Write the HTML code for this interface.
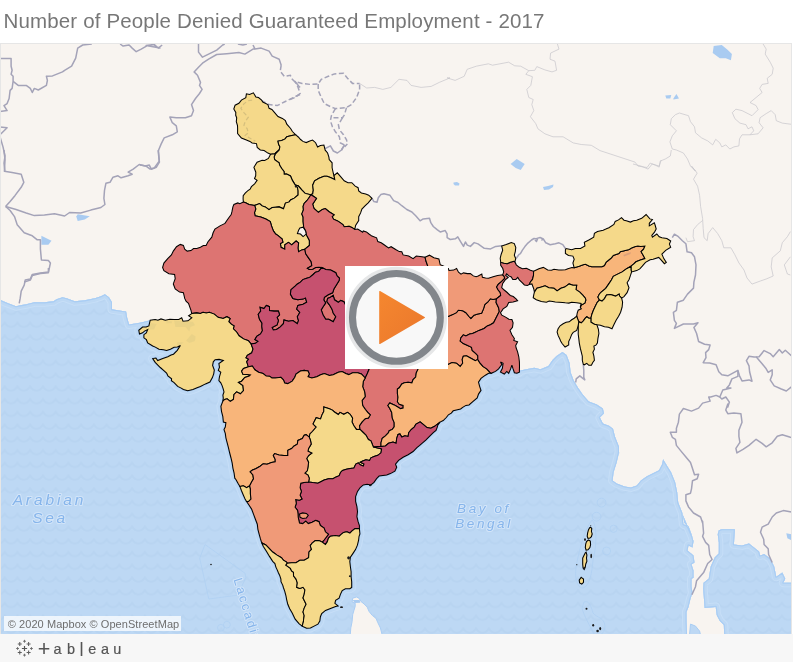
<!DOCTYPE html>
<html lang="en">
<head>
<meta charset="utf-8">
<title>Number of People Denied Guaranteed Employment - 2017</title>
<style>
html,body{margin:0;padding:0;background:#fff;}
body{width:793px;height:662px;position:relative;overflow:hidden;font-family:"Liberation Sans",sans-serif;}
#title{position:absolute;left:3.5px;top:9px;font-size:20.5px;line-height:24px;color:#777;white-space:nowrap;letter-spacing:0.15px;}
#map{position:absolute;left:0;top:43px;width:792px;height:591px;background:#f8f4f0;overflow:hidden;}
#map svg{position:absolute;left:0;top:-43px;}
#frame{position:absolute;left:0;top:43px;width:790px;height:590px;border:1px solid #e6e6e6;border-bottom:0;pointer-events:none;}
#footer{position:absolute;left:0;top:634px;width:793px;height:28px;background:#f7f7f7;}
#play{position:absolute;left:345px;top:266px;width:103px;height:103px;background:#fff;}
#attr{position:absolute;left:4px;top:616px;width:177px;height:15px;background:rgba(255,255,255,0.75);font-size:11px;line-height:15px;color:#6e6e6e;white-space:nowrap;}
#attr span{position:absolute;left:3.8px;top:0.8px;letter-spacing:0.06px;}
</style>
</head>
<body>
<div id="title">Number of People Denied Guaranteed Employment - 2017</div>
<div id="map">
<svg width="793" height="662" viewBox="0 0 793 662">
<defs><pattern id="wv" width="12.74" height="12.74" patternUnits="userSpaceOnUse" patternTransform="translate(4.7 2.8)"><path d="M-6.37,5.6 C-4,5.6 -1.6,4.2 0,1.2 C1.6,4.2 4,5.6 6.37,5.6 C8.74,5.6 11.1,4.2 12.74,1.2 C14.3,4.2 16.7,5.6 19.1,5.6" fill="none" stroke="#b8d4f1" stroke-width="2.1" stroke-linejoin="round"/></pattern></defs>
<rect x="0" y="43" width="793" height="592" fill="#f8f4f0"/>
<path d="M-12.1,300.3 1.0,300.3 8.1,303.3 16.1,306.3 20.2,305.3 26.2,304.3 34.3,302.3 44.4,302.3 53.5,301.3 56.5,299.3 62.5,297.2 66.6,298.2 74.7,301.3 84.7,300.3 94.8,298.2 100.9,296.2 104.9,294.2 109.0,297.2 112.0,302.3 112.0,309.3 119.0,310.4 126.1,311.4 127.1,317.4 129.1,324.5 135.2,323.5 141.2,322.5 149.3,320.4 165.3,320.2 161.0,318.9 157.9,320.2 155.2,319.5 150.2,320.2 148.9,325.9 146.1,326.9 142.6,327.1 138.8,330.3 139.5,334.0 142.6,332.8 144.5,331.1 147.7,329.6 146.3,332.9 143.9,334.7 143.9,337.8 146.4,339.7 147.7,342.9 152.7,346.0 155.3,347.1 159.0,349.2 163.5,349.8 166.6,350.4 170.4,349.2 174.1,347.3 177.4,347.0 180.4,345.4 177.3,350.4 173.5,354.2 171.1,355.0 167.8,356.7 162.8,358.6 157.7,360.5 155.9,358.0 152.7,358.6 155.2,362.4 157.6,364.8 160.3,367.5 163.3,370.2 166.6,373.1 167.9,375.8 171.6,378.8 171.4,380.7 174.1,382.6 177.7,386.4 181.2,388.1 183.4,389.5 187.8,390.8 192.9,389.5 197.1,387.8 200.4,386.4 205.5,383.9 209.9,382.0 212.4,377.6 213.7,373.8 214.3,370.0 212.6,365.4 213.3,361.8 215.1,359.7 219.1,359.4 223.3,360.4 218.9,363.5 219.5,367.3 218.3,370.4 220.8,372.3 219.5,376.7 218.9,380.5 220.8,382.8 222.1,385.6 223.2,388.9 224.0,391.9 222.9,395.0 223.3,398.2 222.7,401.5 220.9,406.3 221.5,411.3 222.8,416.4 223.4,422.1 225.9,422.7 225.3,427.1 224.0,429.6 225.3,433.4 225.9,437.8 227.2,442.9 228.5,447.9 229.7,453.0 231.0,458.0 232.2,463.1 232.9,468.1 234.1,473.1 234.8,478.2 235.9,479.5 238.4,483.9 239.9,486.4 241.5,490.8 243.4,495.2 245.3,499.6 246.6,501.5 249.1,505.3 251.6,509.1 253.5,514.1 255.4,519.2 257.3,524.2 257.9,529.3 259.2,534.3 260.4,538.7 261.7,542.8 263.2,546.3 266.4,551.3 269.5,556.4 272.7,561.4 274.9,563.6 275.9,567.1 277.2,569.9 278.4,572.8 279.7,575.4 280.9,579.1 281.0,581.6 282.8,585.4 283.4,587.5 284.7,591.1 285.9,595.5 286.6,599.3 287.8,604.3 289.7,608.7 292.2,613.1 294.1,616.9 295.2,619.2 299.0,623.6 302.2,626.1 306.6,628.3 310.4,628.0 314.1,626.1 317.9,624.2 319.8,621.1 320.4,616.7 321.7,613.5 325.5,610.4 330.5,608.5 335.6,606.6 338.1,605.9 334.9,603.4 335.6,600.3 339.1,598.2 340.4,594.4 342.2,590.6 345.4,588.7 349.8,588.7 351.7,587.5 351.7,581.8 351.1,576.7 351.1,571.7 350.4,566.7 349.8,561.6 350.4,557.2 353.0,553.4 355.5,549.6 357.4,545.2 358.6,540.2 359.0,536.5 359.9,533.9 359.4,528.6 359.4,525.5 358.1,521.7 356.9,516.7 357.5,511.6 356.9,506.6 355.6,501.5 355.6,496.5 357.5,491.4 360.2,487.5 363.3,484.9 367.1,484.3 370.9,484.9 374.0,482.4 376.6,478.6 379.1,476.1 382.9,475.5 386.7,474.9 390.4,473.6 394.9,471.1 396.7,467.3 395.5,464.1 398.6,460.4 403.1,457.2 408.1,454.7 413.1,451.5 416.9,447.7 419.4,445.6 422.0,443.3 425.8,440.2 429.5,436.4 433.3,432.6 436.0,430.4 437.1,427.6 437.9,424.9 440.0,422.1 443.2,420.6 446.3,417.5 448.4,414.8 451.3,413.1 453.2,410.8 456.4,409.9 460.6,408.9 462.7,407.4 465.9,405.4 469.0,404.9 472.8,401.7 477.2,397.9 478.5,394.1 481.0,390.4 479.7,386.6 478.5,382.2 481.0,378.4 485.4,375.2 488.6,373.3 491.1,373.3 495.5,371.4 498.6,368.9 501.8,364.5 500.5,362.0 503.1,363.2 502.4,368.3 500.5,372.1 504.3,374.0 506.8,371.4 508.7,373.3 510.6,368.9 511.9,365.1 513.1,368.9 514.4,372.7 516.9,373.3 519.4,372.1 519.4,370.8 526.2,369.2 534.3,367.8 540.4,369.2 548.4,366.1 552.5,360.1 556.5,356.1 562.5,352.0 566.6,355.0 569.6,363.1 570.6,372.2 573.6,380.3 577.7,387.3 582.7,394.4 588.8,401.5 596.8,404.5 602.9,408.5 603.9,413.6 599.9,417.6 602.9,423.6 609.0,425.7 613.0,428.7 615.0,436.8 619.0,446.8 619.0,454.9 619.1,452.1 616.7,462.2 613.6,472.3 612.6,480.4 616.7,483.4 624.7,486.4 630.8,487.4 636.8,485.4 640.9,480.4 646.9,476.3 653.0,473.3 659.0,470.3 662.1,464.2 663.1,459.2 666.1,464.2 671.1,472.3 675.2,482.4 677.2,492.5 678.2,502.5 682.2,512.6 684.3,522.7 689.3,528.8 692.3,536.8 682.4,514.1 683.4,524.2 688.5,526.2 691.5,534.3 693.5,541.3 692.5,547.4 688.5,545.4 687.5,550.4 693.5,555.5 694.5,562.5 691.5,564.5 693.5,570.6 693.5,577.7 691.5,578.7 691.5,586.7 692.5,592.8 690.5,598.8 688.5,606.9 686.5,612.0 686.5,621.0 687.1,635.2 686.0,650.0 -12.0,650.0Z M718.8,530.2 721.8,529.2 734.9,529.2 733.9,544.4 742.0,545.4 749.0,543.4 754.1,547.4 759.1,551.4 760.1,555.5 764.1,554.1 770.2,558.5 774.2,566.6 776.3,576.7 782.3,572.6 785.3,578.7 783.3,582.7 791.4,582.7 804.5,582.7 804.5,647.3 724.8,647.3 723.8,625.1 719.8,621.0 716.7,615.0 715.7,606.9 704.6,607.9 703.2,588.8 703.6,582.7 708.7,578.7 710.7,566.6 714.7,557.5 718.8,553.5 718.8,542.4 717.7,534.3Z" fill="#bdd8f4"/>
<path d="M-12.1,300.3 1.0,300.3 8.1,303.3 16.1,306.3 20.2,305.3 26.2,304.3 34.3,302.3 44.4,302.3 53.5,301.3 56.5,299.3 62.5,297.2 66.6,298.2 74.7,301.3 84.7,300.3 94.8,298.2 100.9,296.2 104.9,294.2 109.0,297.2 112.0,302.3 112.0,309.3 119.0,310.4 126.1,311.4 127.1,317.4 129.1,324.5 135.2,323.5 141.2,322.5 149.3,320.4 165.3,320.2 161.0,318.9 157.9,320.2 155.2,319.5 150.2,320.2 148.9,325.9 146.1,326.9 142.6,327.1 138.8,330.3 139.5,334.0 142.6,332.8 144.5,331.1 147.7,329.6 146.3,332.9 143.9,334.7 143.9,337.8 146.4,339.7 147.7,342.9 152.7,346.0 155.3,347.1 159.0,349.2 163.5,349.8 166.6,350.4 170.4,349.2 174.1,347.3 177.4,347.0 180.4,345.4 177.3,350.4 173.5,354.2 171.1,355.0 167.8,356.7 162.8,358.6 157.7,360.5 155.9,358.0 152.7,358.6 155.2,362.4 157.6,364.8 160.3,367.5 163.3,370.2 166.6,373.1 167.9,375.8 171.6,378.8 171.4,380.7 174.1,382.6 177.7,386.4 181.2,388.1 183.4,389.5 187.8,390.8 192.9,389.5 197.1,387.8 200.4,386.4 205.5,383.9 209.9,382.0 212.4,377.6 213.7,373.8 214.3,370.0 212.6,365.4 213.3,361.8 215.1,359.7 219.1,359.4 223.3,360.4 218.9,363.5 219.5,367.3 218.3,370.4 220.8,372.3 219.5,376.7 218.9,380.5 220.8,382.8 222.1,385.6 223.2,388.9 224.0,391.9 222.9,395.0 223.3,398.2 222.7,401.5 220.9,406.3 221.5,411.3 222.8,416.4 223.4,422.1 225.9,422.7 225.3,427.1 224.0,429.6 225.3,433.4 225.9,437.8 227.2,442.9 228.5,447.9 229.7,453.0 231.0,458.0 232.2,463.1 232.9,468.1 234.1,473.1 234.8,478.2 235.9,479.5 238.4,483.9 239.9,486.4 241.5,490.8 243.4,495.2 245.3,499.6 246.6,501.5 249.1,505.3 251.6,509.1 253.5,514.1 255.4,519.2 257.3,524.2 257.9,529.3 259.2,534.3 260.4,538.7 261.7,542.8 263.2,546.3 266.4,551.3 269.5,556.4 272.7,561.4 274.9,563.6 275.9,567.1 277.2,569.9 278.4,572.8 279.7,575.4 280.9,579.1 281.0,581.6 282.8,585.4 283.4,587.5 284.7,591.1 285.9,595.5 286.6,599.3 287.8,604.3 289.7,608.7 292.2,613.1 294.1,616.9 295.2,619.2 299.0,623.6 302.2,626.1 306.6,628.3 310.4,628.0 314.1,626.1 317.9,624.2 319.8,621.1 320.4,616.7 321.7,613.5 325.5,610.4 330.5,608.5 335.6,606.6 338.1,605.9 334.9,603.4 335.6,600.3 339.1,598.2 340.4,594.4 342.2,590.6 345.4,588.7 349.8,588.7 351.7,587.5 351.7,581.8 351.1,576.7 351.1,571.7 350.4,566.7 349.8,561.6 350.4,557.2 353.0,553.4 355.5,549.6 357.4,545.2 358.6,540.2 359.0,536.5 359.9,533.9 359.4,528.6 359.4,525.5 358.1,521.7 356.9,516.7 357.5,511.6 356.9,506.6 355.6,501.5 355.6,496.5 357.5,491.4 360.2,487.5 363.3,484.9 367.1,484.3 370.9,484.9 374.0,482.4 376.6,478.6 379.1,476.1 382.9,475.5 386.7,474.9 390.4,473.6 394.9,471.1 396.7,467.3 395.5,464.1 398.6,460.4 403.1,457.2 408.1,454.7 413.1,451.5 416.9,447.7 419.4,445.6 422.0,443.3 425.8,440.2 429.5,436.4 433.3,432.6 436.0,430.4 437.1,427.6 437.9,424.9 440.0,422.1 443.2,420.6 446.3,417.5 448.4,414.8 451.3,413.1 453.2,410.8 456.4,409.9 460.6,408.9 462.7,407.4 465.9,405.4 469.0,404.9 472.8,401.7 477.2,397.9 478.5,394.1 481.0,390.4 479.7,386.6 478.5,382.2 481.0,378.4 485.4,375.2 488.6,373.3 491.1,373.3 495.5,371.4 498.6,368.9 501.8,364.5 500.5,362.0 503.1,363.2 502.4,368.3 500.5,372.1 504.3,374.0 506.8,371.4 508.7,373.3 510.6,368.9 511.9,365.1 513.1,368.9 514.4,372.7 516.9,373.3 519.4,372.1 519.4,370.8 526.2,369.2 534.3,367.8 540.4,369.2 548.4,366.1 552.5,360.1 556.5,356.1 562.5,352.0 566.6,355.0 569.6,363.1 570.6,372.2 573.6,380.3 577.7,387.3 582.7,394.4 588.8,401.5 596.8,404.5 602.9,408.5 603.9,413.6 599.9,417.6 602.9,423.6 609.0,425.7 613.0,428.7 615.0,436.8 619.0,446.8 619.0,454.9 619.1,452.1 616.7,462.2 613.6,472.3 612.6,480.4 616.7,483.4 624.7,486.4 630.8,487.4 636.8,485.4 640.9,480.4 646.9,476.3 653.0,473.3 659.0,470.3 662.1,464.2 663.1,459.2 666.1,464.2 671.1,472.3 675.2,482.4 677.2,492.5 678.2,502.5 682.2,512.6 684.3,522.7 689.3,528.8 692.3,536.8 682.4,514.1 683.4,524.2 688.5,526.2 691.5,534.3 693.5,541.3 692.5,547.4 688.5,545.4 687.5,550.4 693.5,555.5 694.5,562.5 691.5,564.5 693.5,570.6 693.5,577.7 691.5,578.7 691.5,586.7 692.5,592.8 690.5,598.8 688.5,606.9 686.5,612.0 686.5,621.0 687.1,635.2 686.0,650.0 -12.0,650.0Z M718.8,530.2 721.8,529.2 734.9,529.2 733.9,544.4 742.0,545.4 749.0,543.4 754.1,547.4 759.1,551.4 760.1,555.5 764.1,554.1 770.2,558.5 774.2,566.6 776.3,576.7 782.3,572.6 785.3,578.7 783.3,582.7 791.4,582.7 804.5,582.7 804.5,647.3 724.8,647.3 723.8,625.1 719.8,621.0 716.7,615.0 715.7,606.9 704.6,607.9 703.2,588.8 703.6,582.7 708.7,578.7 710.7,566.6 714.7,557.5 718.8,553.5 718.8,542.4 717.7,534.3Z" fill="url(#wv)"/>
<clipPath id="wc"><path d="M-12.1,300.3 1.0,300.3 8.1,303.3 16.1,306.3 20.2,305.3 26.2,304.3 34.3,302.3 44.4,302.3 53.5,301.3 56.5,299.3 62.5,297.2 66.6,298.2 74.7,301.3 84.7,300.3 94.8,298.2 100.9,296.2 104.9,294.2 109.0,297.2 112.0,302.3 112.0,309.3 119.0,310.4 126.1,311.4 127.1,317.4 129.1,324.5 135.2,323.5 141.2,322.5 149.3,320.4 165.3,320.2 161.0,318.9 157.9,320.2 155.2,319.5 150.2,320.2 148.9,325.9 146.1,326.9 142.6,327.1 138.8,330.3 139.5,334.0 142.6,332.8 144.5,331.1 147.7,329.6 146.3,332.9 143.9,334.7 143.9,337.8 146.4,339.7 147.7,342.9 152.7,346.0 155.3,347.1 159.0,349.2 163.5,349.8 166.6,350.4 170.4,349.2 174.1,347.3 177.4,347.0 180.4,345.4 177.3,350.4 173.5,354.2 171.1,355.0 167.8,356.7 162.8,358.6 157.7,360.5 155.9,358.0 152.7,358.6 155.2,362.4 157.6,364.8 160.3,367.5 163.3,370.2 166.6,373.1 167.9,375.8 171.6,378.8 171.4,380.7 174.1,382.6 177.7,386.4 181.2,388.1 183.4,389.5 187.8,390.8 192.9,389.5 197.1,387.8 200.4,386.4 205.5,383.9 209.9,382.0 212.4,377.6 213.7,373.8 214.3,370.0 212.6,365.4 213.3,361.8 215.1,359.7 219.1,359.4 223.3,360.4 218.9,363.5 219.5,367.3 218.3,370.4 220.8,372.3 219.5,376.7 218.9,380.5 220.8,382.8 222.1,385.6 223.2,388.9 224.0,391.9 222.9,395.0 223.3,398.2 222.7,401.5 220.9,406.3 221.5,411.3 222.8,416.4 223.4,422.1 225.9,422.7 225.3,427.1 224.0,429.6 225.3,433.4 225.9,437.8 227.2,442.9 228.5,447.9 229.7,453.0 231.0,458.0 232.2,463.1 232.9,468.1 234.1,473.1 234.8,478.2 235.9,479.5 238.4,483.9 239.9,486.4 241.5,490.8 243.4,495.2 245.3,499.6 246.6,501.5 249.1,505.3 251.6,509.1 253.5,514.1 255.4,519.2 257.3,524.2 257.9,529.3 259.2,534.3 260.4,538.7 261.7,542.8 263.2,546.3 266.4,551.3 269.5,556.4 272.7,561.4 274.9,563.6 275.9,567.1 277.2,569.9 278.4,572.8 279.7,575.4 280.9,579.1 281.0,581.6 282.8,585.4 283.4,587.5 284.7,591.1 285.9,595.5 286.6,599.3 287.8,604.3 289.7,608.7 292.2,613.1 294.1,616.9 295.2,619.2 299.0,623.6 302.2,626.1 306.6,628.3 310.4,628.0 314.1,626.1 317.9,624.2 319.8,621.1 320.4,616.7 321.7,613.5 325.5,610.4 330.5,608.5 335.6,606.6 338.1,605.9 334.9,603.4 335.6,600.3 339.1,598.2 340.4,594.4 342.2,590.6 345.4,588.7 349.8,588.7 351.7,587.5 351.7,581.8 351.1,576.7 351.1,571.7 350.4,566.7 349.8,561.6 350.4,557.2 353.0,553.4 355.5,549.6 357.4,545.2 358.6,540.2 359.0,536.5 359.9,533.9 359.4,528.6 359.4,525.5 358.1,521.7 356.9,516.7 357.5,511.6 356.9,506.6 355.6,501.5 355.6,496.5 357.5,491.4 360.2,487.5 363.3,484.9 367.1,484.3 370.9,484.9 374.0,482.4 376.6,478.6 379.1,476.1 382.9,475.5 386.7,474.9 390.4,473.6 394.9,471.1 396.7,467.3 395.5,464.1 398.6,460.4 403.1,457.2 408.1,454.7 413.1,451.5 416.9,447.7 419.4,445.6 422.0,443.3 425.8,440.2 429.5,436.4 433.3,432.6 436.0,430.4 437.1,427.6 437.9,424.9 440.0,422.1 443.2,420.6 446.3,417.5 448.4,414.8 451.3,413.1 453.2,410.8 456.4,409.9 460.6,408.9 462.7,407.4 465.9,405.4 469.0,404.9 472.8,401.7 477.2,397.9 478.5,394.1 481.0,390.4 479.7,386.6 478.5,382.2 481.0,378.4 485.4,375.2 488.6,373.3 491.1,373.3 495.5,371.4 498.6,368.9 501.8,364.5 500.5,362.0 503.1,363.2 502.4,368.3 500.5,372.1 504.3,374.0 506.8,371.4 508.7,373.3 510.6,368.9 511.9,365.1 513.1,368.9 514.4,372.7 516.9,373.3 519.4,372.1 519.4,370.8 526.2,369.2 534.3,367.8 540.4,369.2 548.4,366.1 552.5,360.1 556.5,356.1 562.5,352.0 566.6,355.0 569.6,363.1 570.6,372.2 573.6,380.3 577.7,387.3 582.7,394.4 588.8,401.5 596.8,404.5 602.9,408.5 603.9,413.6 599.9,417.6 602.9,423.6 609.0,425.7 613.0,428.7 615.0,436.8 619.0,446.8 619.0,454.9 619.1,452.1 616.7,462.2 613.6,472.3 612.6,480.4 616.7,483.4 624.7,486.4 630.8,487.4 636.8,485.4 640.9,480.4 646.9,476.3 653.0,473.3 659.0,470.3 662.1,464.2 663.1,459.2 666.1,464.2 671.1,472.3 675.2,482.4 677.2,492.5 678.2,502.5 682.2,512.6 684.3,522.7 689.3,528.8 692.3,536.8 682.4,514.1 683.4,524.2 688.5,526.2 691.5,534.3 693.5,541.3 692.5,547.4 688.5,545.4 687.5,550.4 693.5,555.5 694.5,562.5 691.5,564.5 693.5,570.6 693.5,577.7 691.5,578.7 691.5,586.7 692.5,592.8 690.5,598.8 688.5,606.9 686.5,612.0 686.5,621.0 687.1,635.2 686.0,650.0 -12.0,650.0Z M718.8,530.2 721.8,529.2 734.9,529.2 733.9,544.4 742.0,545.4 749.0,543.4 754.1,547.4 759.1,551.4 760.1,555.5 764.1,554.1 770.2,558.5 774.2,566.6 776.3,576.7 782.3,572.6 785.3,578.7 783.3,582.7 791.4,582.7 804.5,582.7 804.5,647.3 724.8,647.3 723.8,625.1 719.8,621.0 716.7,615.0 715.7,606.9 704.6,607.9 703.2,588.8 703.6,582.7 708.7,578.7 710.7,566.6 714.7,557.5 718.8,553.5 718.8,542.4 717.7,534.3Z"/></clipPath>
<g clip-path="url(#wc)" fill="none" stroke-linejoin="round"><path d="M-12.1,300.3 1.0,300.3 8.1,303.3 16.1,306.3 20.2,305.3 26.2,304.3 34.3,302.3 44.4,302.3 53.5,301.3 56.5,299.3 62.5,297.2 66.6,298.2 74.7,301.3 84.7,300.3 94.8,298.2 100.9,296.2 104.9,294.2 109.0,297.2 112.0,302.3 112.0,309.3 119.0,310.4 126.1,311.4 127.1,317.4 129.1,324.5 135.2,323.5 141.2,322.5 149.3,320.4 165.3,320.2 161.0,318.9 157.9,320.2 155.2,319.5 150.2,320.2 148.9,325.9 146.1,326.9 142.6,327.1 138.8,330.3 139.5,334.0 142.6,332.8 144.5,331.1 147.7,329.6 146.3,332.9 143.9,334.7 143.9,337.8 146.4,339.7 147.7,342.9 152.7,346.0 155.3,347.1 159.0,349.2 163.5,349.8 166.6,350.4 170.4,349.2 174.1,347.3 177.4,347.0 180.4,345.4 177.3,350.4 173.5,354.2 171.1,355.0 167.8,356.7 162.8,358.6 157.7,360.5 155.9,358.0 152.7,358.6 155.2,362.4 157.6,364.8 160.3,367.5 163.3,370.2 166.6,373.1 167.9,375.8 171.6,378.8 171.4,380.7 174.1,382.6 177.7,386.4 181.2,388.1 183.4,389.5 187.8,390.8 192.9,389.5 197.1,387.8 200.4,386.4 205.5,383.9 209.9,382.0 212.4,377.6 213.7,373.8 214.3,370.0 212.6,365.4 213.3,361.8 215.1,359.7 219.1,359.4 223.3,360.4 218.9,363.5 219.5,367.3 218.3,370.4 220.8,372.3 219.5,376.7 218.9,380.5 220.8,382.8 222.1,385.6 223.2,388.9 224.0,391.9 222.9,395.0 223.3,398.2 222.7,401.5 220.9,406.3 221.5,411.3 222.8,416.4 223.4,422.1 225.9,422.7 225.3,427.1 224.0,429.6 225.3,433.4 225.9,437.8 227.2,442.9 228.5,447.9 229.7,453.0 231.0,458.0 232.2,463.1 232.9,468.1 234.1,473.1 234.8,478.2 235.9,479.5 238.4,483.9 239.9,486.4 241.5,490.8 243.4,495.2 245.3,499.6 246.6,501.5 249.1,505.3 251.6,509.1 253.5,514.1 255.4,519.2 257.3,524.2 257.9,529.3 259.2,534.3 260.4,538.7 261.7,542.8 263.2,546.3 266.4,551.3 269.5,556.4 272.7,561.4 274.9,563.6 275.9,567.1 277.2,569.9 278.4,572.8 279.7,575.4 280.9,579.1 281.0,581.6 282.8,585.4 283.4,587.5 284.7,591.1 285.9,595.5 286.6,599.3 287.8,604.3 289.7,608.7 292.2,613.1 294.1,616.9 295.2,619.2 299.0,623.6 302.2,626.1 306.6,628.3 310.4,628.0 314.1,626.1 317.9,624.2 319.8,621.1 320.4,616.7 321.7,613.5 325.5,610.4 330.5,608.5 335.6,606.6 338.1,605.9 334.9,603.4 335.6,600.3 339.1,598.2 340.4,594.4 342.2,590.6 345.4,588.7 349.8,588.7 351.7,587.5 351.7,581.8 351.1,576.7 351.1,571.7 350.4,566.7 349.8,561.6 350.4,557.2 353.0,553.4 355.5,549.6 357.4,545.2 358.6,540.2 359.0,536.5 359.9,533.9 359.4,528.6 359.4,525.5 358.1,521.7 356.9,516.7 357.5,511.6 356.9,506.6 355.6,501.5 355.6,496.5 357.5,491.4 360.2,487.5 363.3,484.9 367.1,484.3 370.9,484.9 374.0,482.4 376.6,478.6 379.1,476.1 382.9,475.5 386.7,474.9 390.4,473.6 394.9,471.1 396.7,467.3 395.5,464.1 398.6,460.4 403.1,457.2 408.1,454.7 413.1,451.5 416.9,447.7 419.4,445.6 422.0,443.3 425.8,440.2 429.5,436.4 433.3,432.6 436.0,430.4 437.1,427.6 437.9,424.9 440.0,422.1 443.2,420.6 446.3,417.5 448.4,414.8 451.3,413.1 453.2,410.8 456.4,409.9 460.6,408.9 462.7,407.4 465.9,405.4 469.0,404.9 472.8,401.7 477.2,397.9 478.5,394.1 481.0,390.4 479.7,386.6 478.5,382.2 481.0,378.4 485.4,375.2 488.6,373.3 491.1,373.3 495.5,371.4 498.6,368.9 501.8,364.5 500.5,362.0 503.1,363.2 502.4,368.3 500.5,372.1 504.3,374.0 506.8,371.4 508.7,373.3 510.6,368.9 511.9,365.1 513.1,368.9 514.4,372.7 516.9,373.3 519.4,372.1 519.4,370.8 526.2,369.2 534.3,367.8 540.4,369.2 548.4,366.1 552.5,360.1 556.5,356.1 562.5,352.0 566.6,355.0 569.6,363.1 570.6,372.2 573.6,380.3 577.7,387.3 582.7,394.4 588.8,401.5 596.8,404.5 602.9,408.5 603.9,413.6 599.9,417.6 602.9,423.6 609.0,425.7 613.0,428.7 615.0,436.8 619.0,446.8 619.0,454.9 619.1,452.1 616.7,462.2 613.6,472.3 612.6,480.4 616.7,483.4 624.7,486.4 630.8,487.4 636.8,485.4 640.9,480.4 646.9,476.3 653.0,473.3 659.0,470.3 662.1,464.2 663.1,459.2 666.1,464.2 671.1,472.3 675.2,482.4 677.2,492.5 678.2,502.5 682.2,512.6 684.3,522.7 689.3,528.8 692.3,536.8 682.4,514.1 683.4,524.2 688.5,526.2 691.5,534.3 693.5,541.3 692.5,547.4 688.5,545.4 687.5,550.4 693.5,555.5 694.5,562.5 691.5,564.5 693.5,570.6 693.5,577.7 691.5,578.7 691.5,586.7 692.5,592.8 690.5,598.8 688.5,606.9 686.5,612.0 686.5,621.0 687.1,635.2 686.0,650.0 -12.0,650.0Z M718.8,530.2 721.8,529.2 734.9,529.2 733.9,544.4 742.0,545.4 749.0,543.4 754.1,547.4 759.1,551.4 760.1,555.5 764.1,554.1 770.2,558.5 774.2,566.6 776.3,576.7 782.3,572.6 785.3,578.7 783.3,582.7 791.4,582.7 804.5,582.7 804.5,647.3 724.8,647.3 723.8,625.1 719.8,621.0 716.7,615.0 715.7,606.9 704.6,607.9 703.2,588.8 703.6,582.7 708.7,578.7 710.7,566.6 714.7,557.5 718.8,553.5 718.8,542.4 717.7,534.3Z" stroke="#c6def7" stroke-width="9"/><path d="M-12.1,300.3 1.0,300.3 8.1,303.3 16.1,306.3 20.2,305.3 26.2,304.3 34.3,302.3 44.4,302.3 53.5,301.3 56.5,299.3 62.5,297.2 66.6,298.2 74.7,301.3 84.7,300.3 94.8,298.2 100.9,296.2 104.9,294.2 109.0,297.2 112.0,302.3 112.0,309.3 119.0,310.4 126.1,311.4 127.1,317.4 129.1,324.5 135.2,323.5 141.2,322.5 149.3,320.4 165.3,320.2 161.0,318.9 157.9,320.2 155.2,319.5 150.2,320.2 148.9,325.9 146.1,326.9 142.6,327.1 138.8,330.3 139.5,334.0 142.6,332.8 144.5,331.1 147.7,329.6 146.3,332.9 143.9,334.7 143.9,337.8 146.4,339.7 147.7,342.9 152.7,346.0 155.3,347.1 159.0,349.2 163.5,349.8 166.6,350.4 170.4,349.2 174.1,347.3 177.4,347.0 180.4,345.4 177.3,350.4 173.5,354.2 171.1,355.0 167.8,356.7 162.8,358.6 157.7,360.5 155.9,358.0 152.7,358.6 155.2,362.4 157.6,364.8 160.3,367.5 163.3,370.2 166.6,373.1 167.9,375.8 171.6,378.8 171.4,380.7 174.1,382.6 177.7,386.4 181.2,388.1 183.4,389.5 187.8,390.8 192.9,389.5 197.1,387.8 200.4,386.4 205.5,383.9 209.9,382.0 212.4,377.6 213.7,373.8 214.3,370.0 212.6,365.4 213.3,361.8 215.1,359.7 219.1,359.4 223.3,360.4 218.9,363.5 219.5,367.3 218.3,370.4 220.8,372.3 219.5,376.7 218.9,380.5 220.8,382.8 222.1,385.6 223.2,388.9 224.0,391.9 222.9,395.0 223.3,398.2 222.7,401.5 220.9,406.3 221.5,411.3 222.8,416.4 223.4,422.1 225.9,422.7 225.3,427.1 224.0,429.6 225.3,433.4 225.9,437.8 227.2,442.9 228.5,447.9 229.7,453.0 231.0,458.0 232.2,463.1 232.9,468.1 234.1,473.1 234.8,478.2 235.9,479.5 238.4,483.9 239.9,486.4 241.5,490.8 243.4,495.2 245.3,499.6 246.6,501.5 249.1,505.3 251.6,509.1 253.5,514.1 255.4,519.2 257.3,524.2 257.9,529.3 259.2,534.3 260.4,538.7 261.7,542.8 263.2,546.3 266.4,551.3 269.5,556.4 272.7,561.4 274.9,563.6 275.9,567.1 277.2,569.9 278.4,572.8 279.7,575.4 280.9,579.1 281.0,581.6 282.8,585.4 283.4,587.5 284.7,591.1 285.9,595.5 286.6,599.3 287.8,604.3 289.7,608.7 292.2,613.1 294.1,616.9 295.2,619.2 299.0,623.6 302.2,626.1 306.6,628.3 310.4,628.0 314.1,626.1 317.9,624.2 319.8,621.1 320.4,616.7 321.7,613.5 325.5,610.4 330.5,608.5 335.6,606.6 338.1,605.9 334.9,603.4 335.6,600.3 339.1,598.2 340.4,594.4 342.2,590.6 345.4,588.7 349.8,588.7 351.7,587.5 351.7,581.8 351.1,576.7 351.1,571.7 350.4,566.7 349.8,561.6 350.4,557.2 353.0,553.4 355.5,549.6 357.4,545.2 358.6,540.2 359.0,536.5 359.9,533.9 359.4,528.6 359.4,525.5 358.1,521.7 356.9,516.7 357.5,511.6 356.9,506.6 355.6,501.5 355.6,496.5 357.5,491.4 360.2,487.5 363.3,484.9 367.1,484.3 370.9,484.9 374.0,482.4 376.6,478.6 379.1,476.1 382.9,475.5 386.7,474.9 390.4,473.6 394.9,471.1 396.7,467.3 395.5,464.1 398.6,460.4 403.1,457.2 408.1,454.7 413.1,451.5 416.9,447.7 419.4,445.6 422.0,443.3 425.8,440.2 429.5,436.4 433.3,432.6 436.0,430.4 437.1,427.6 437.9,424.9 440.0,422.1 443.2,420.6 446.3,417.5 448.4,414.8 451.3,413.1 453.2,410.8 456.4,409.9 460.6,408.9 462.7,407.4 465.9,405.4 469.0,404.9 472.8,401.7 477.2,397.9 478.5,394.1 481.0,390.4 479.7,386.6 478.5,382.2 481.0,378.4 485.4,375.2 488.6,373.3 491.1,373.3 495.5,371.4 498.6,368.9 501.8,364.5 500.5,362.0 503.1,363.2 502.4,368.3 500.5,372.1 504.3,374.0 506.8,371.4 508.7,373.3 510.6,368.9 511.9,365.1 513.1,368.9 514.4,372.7 516.9,373.3 519.4,372.1 519.4,370.8 526.2,369.2 534.3,367.8 540.4,369.2 548.4,366.1 552.5,360.1 556.5,356.1 562.5,352.0 566.6,355.0 569.6,363.1 570.6,372.2 573.6,380.3 577.7,387.3 582.7,394.4 588.8,401.5 596.8,404.5 602.9,408.5 603.9,413.6 599.9,417.6 602.9,423.6 609.0,425.7 613.0,428.7 615.0,436.8 619.0,446.8 619.0,454.9 619.1,452.1 616.7,462.2 613.6,472.3 612.6,480.4 616.7,483.4 624.7,486.4 630.8,487.4 636.8,485.4 640.9,480.4 646.9,476.3 653.0,473.3 659.0,470.3 662.1,464.2 663.1,459.2 666.1,464.2 671.1,472.3 675.2,482.4 677.2,492.5 678.2,502.5 682.2,512.6 684.3,522.7 689.3,528.8 692.3,536.8 682.4,514.1 683.4,524.2 688.5,526.2 691.5,534.3 693.5,541.3 692.5,547.4 688.5,545.4 687.5,550.4 693.5,555.5 694.5,562.5 691.5,564.5 693.5,570.6 693.5,577.7 691.5,578.7 691.5,586.7 692.5,592.8 690.5,598.8 688.5,606.9 686.5,612.0 686.5,621.0 687.1,635.2 686.0,650.0 -12.0,650.0Z M718.8,530.2 721.8,529.2 734.9,529.2 733.9,544.4 742.0,545.4 749.0,543.4 754.1,547.4 759.1,551.4 760.1,555.5 764.1,554.1 770.2,558.5 774.2,566.6 776.3,576.7 782.3,572.6 785.3,578.7 783.3,582.7 791.4,582.7 804.5,582.7 804.5,647.3 724.8,647.3 723.8,625.1 719.8,621.0 716.7,615.0 715.7,606.9 704.6,607.9 703.2,588.8 703.6,582.7 708.7,578.7 710.7,566.6 714.7,557.5 718.8,553.5 718.8,542.4 717.7,534.3Z" stroke="#bdd8f4" stroke-width="7"/><path d="M-12.1,300.3 1.0,300.3 8.1,303.3 16.1,306.3 20.2,305.3 26.2,304.3 34.3,302.3 44.4,302.3 53.5,301.3 56.5,299.3 62.5,297.2 66.6,298.2 74.7,301.3 84.7,300.3 94.8,298.2 100.9,296.2 104.9,294.2 109.0,297.2 112.0,302.3 112.0,309.3 119.0,310.4 126.1,311.4 127.1,317.4 129.1,324.5 135.2,323.5 141.2,322.5 149.3,320.4 165.3,320.2 161.0,318.9 157.9,320.2 155.2,319.5 150.2,320.2 148.9,325.9 146.1,326.9 142.6,327.1 138.8,330.3 139.5,334.0 142.6,332.8 144.5,331.1 147.7,329.6 146.3,332.9 143.9,334.7 143.9,337.8 146.4,339.7 147.7,342.9 152.7,346.0 155.3,347.1 159.0,349.2 163.5,349.8 166.6,350.4 170.4,349.2 174.1,347.3 177.4,347.0 180.4,345.4 177.3,350.4 173.5,354.2 171.1,355.0 167.8,356.7 162.8,358.6 157.7,360.5 155.9,358.0 152.7,358.6 155.2,362.4 157.6,364.8 160.3,367.5 163.3,370.2 166.6,373.1 167.9,375.8 171.6,378.8 171.4,380.7 174.1,382.6 177.7,386.4 181.2,388.1 183.4,389.5 187.8,390.8 192.9,389.5 197.1,387.8 200.4,386.4 205.5,383.9 209.9,382.0 212.4,377.6 213.7,373.8 214.3,370.0 212.6,365.4 213.3,361.8 215.1,359.7 219.1,359.4 223.3,360.4 218.9,363.5 219.5,367.3 218.3,370.4 220.8,372.3 219.5,376.7 218.9,380.5 220.8,382.8 222.1,385.6 223.2,388.9 224.0,391.9 222.9,395.0 223.3,398.2 222.7,401.5 220.9,406.3 221.5,411.3 222.8,416.4 223.4,422.1 225.9,422.7 225.3,427.1 224.0,429.6 225.3,433.4 225.9,437.8 227.2,442.9 228.5,447.9 229.7,453.0 231.0,458.0 232.2,463.1 232.9,468.1 234.1,473.1 234.8,478.2 235.9,479.5 238.4,483.9 239.9,486.4 241.5,490.8 243.4,495.2 245.3,499.6 246.6,501.5 249.1,505.3 251.6,509.1 253.5,514.1 255.4,519.2 257.3,524.2 257.9,529.3 259.2,534.3 260.4,538.7 261.7,542.8 263.2,546.3 266.4,551.3 269.5,556.4 272.7,561.4 274.9,563.6 275.9,567.1 277.2,569.9 278.4,572.8 279.7,575.4 280.9,579.1 281.0,581.6 282.8,585.4 283.4,587.5 284.7,591.1 285.9,595.5 286.6,599.3 287.8,604.3 289.7,608.7 292.2,613.1 294.1,616.9 295.2,619.2 299.0,623.6 302.2,626.1 306.6,628.3 310.4,628.0 314.1,626.1 317.9,624.2 319.8,621.1 320.4,616.7 321.7,613.5 325.5,610.4 330.5,608.5 335.6,606.6 338.1,605.9 334.9,603.4 335.6,600.3 339.1,598.2 340.4,594.4 342.2,590.6 345.4,588.7 349.8,588.7 351.7,587.5 351.7,581.8 351.1,576.7 351.1,571.7 350.4,566.7 349.8,561.6 350.4,557.2 353.0,553.4 355.5,549.6 357.4,545.2 358.6,540.2 359.0,536.5 359.9,533.9 359.4,528.6 359.4,525.5 358.1,521.7 356.9,516.7 357.5,511.6 356.9,506.6 355.6,501.5 355.6,496.5 357.5,491.4 360.2,487.5 363.3,484.9 367.1,484.3 370.9,484.9 374.0,482.4 376.6,478.6 379.1,476.1 382.9,475.5 386.7,474.9 390.4,473.6 394.9,471.1 396.7,467.3 395.5,464.1 398.6,460.4 403.1,457.2 408.1,454.7 413.1,451.5 416.9,447.7 419.4,445.6 422.0,443.3 425.8,440.2 429.5,436.4 433.3,432.6 436.0,430.4 437.1,427.6 437.9,424.9 440.0,422.1 443.2,420.6 446.3,417.5 448.4,414.8 451.3,413.1 453.2,410.8 456.4,409.9 460.6,408.9 462.7,407.4 465.9,405.4 469.0,404.9 472.8,401.7 477.2,397.9 478.5,394.1 481.0,390.4 479.7,386.6 478.5,382.2 481.0,378.4 485.4,375.2 488.6,373.3 491.1,373.3 495.5,371.4 498.6,368.9 501.8,364.5 500.5,362.0 503.1,363.2 502.4,368.3 500.5,372.1 504.3,374.0 506.8,371.4 508.7,373.3 510.6,368.9 511.9,365.1 513.1,368.9 514.4,372.7 516.9,373.3 519.4,372.1 519.4,370.8 526.2,369.2 534.3,367.8 540.4,369.2 548.4,366.1 552.5,360.1 556.5,356.1 562.5,352.0 566.6,355.0 569.6,363.1 570.6,372.2 573.6,380.3 577.7,387.3 582.7,394.4 588.8,401.5 596.8,404.5 602.9,408.5 603.9,413.6 599.9,417.6 602.9,423.6 609.0,425.7 613.0,428.7 615.0,436.8 619.0,446.8 619.0,454.9 619.1,452.1 616.7,462.2 613.6,472.3 612.6,480.4 616.7,483.4 624.7,486.4 630.8,487.4 636.8,485.4 640.9,480.4 646.9,476.3 653.0,473.3 659.0,470.3 662.1,464.2 663.1,459.2 666.1,464.2 671.1,472.3 675.2,482.4 677.2,492.5 678.2,502.5 682.2,512.6 684.3,522.7 689.3,528.8 692.3,536.8 682.4,514.1 683.4,524.2 688.5,526.2 691.5,534.3 693.5,541.3 692.5,547.4 688.5,545.4 687.5,550.4 693.5,555.5 694.5,562.5 691.5,564.5 693.5,570.6 693.5,577.7 691.5,578.7 691.5,586.7 692.5,592.8 690.5,598.8 688.5,606.9 686.5,612.0 686.5,621.0 687.1,635.2 686.0,650.0 -12.0,650.0Z M718.8,530.2 721.8,529.2 734.9,529.2 733.9,544.4 742.0,545.4 749.0,543.4 754.1,547.4 759.1,551.4 760.1,555.5 764.1,554.1 770.2,558.5 774.2,566.6 776.3,576.7 782.3,572.6 785.3,578.7 783.3,582.7 791.4,582.7 804.5,582.7 804.5,647.3 724.8,647.3 723.8,625.1 719.8,621.0 716.7,615.0 715.7,606.9 704.6,607.9 703.2,588.8 703.6,582.7 708.7,578.7 710.7,566.6 714.7,557.5 718.8,553.5 718.8,542.4 717.7,534.3Z" stroke="#a9cdf4" stroke-width="2.2"/></g>
<path d="M350.2,635.4 350.8,627.9 352.1,621.6 352.7,614.6 354.0,610.2 355.2,606.4 355.2,603.3 352.1,602.0 352.7,598.2 356.5,597.0 359.0,598.2 360.9,601.4 364.0,603.9 367.2,607.1 369.1,611.5 372.2,615.3 376.0,618.4 377.9,622.8 380.4,627.9 382.3,635.4Z" fill="#f8f4f0" stroke="#a9cdf4" stroke-width="1"/>
<g fill="none" stroke="#aecff3" stroke-width="0.9" stroke-opacity="0.8"><path d="M205,544.5 L245.1,573.3 L245.8,577.8 L237.5,595.2 L208.8,599 L199.7,558.2 Z"/><circle cx="601.5" cy="502.6" r="4.4"/><circle cx="596.5" cy="516.7" r="4.4"/><circle cx="613.6" cy="528.8" r="3.6"/><circle cx="606.6" cy="551" r="4"/><circle cx="220.9" cy="627.8" r="3.4"/><circle cx="226.9" cy="624.7" r="3.4"/><path d="M592,520 C597,524 597,545 593,560 C592,572 590,586 583,588 C576,588 574,575 577,562 C580,548 584,530 592,520 Z"/><path d="M584,602 C589,600 591,606 593,613 C597,618 604,617 605,626 C605,634 598,638 594,634 C590,626 584,616 582,608 Z"/></g>
<path d="M690.5,624.1 695.5,626.1 699.6,631.1 700.6,635.2 689.5,635.2Z" fill="#bdd8f4" stroke="#a9cdf4" stroke-width="1"/>
<path d="M352.7,600.1 359.6,600.1 360.3,602.7 354.6,602.9Z" fill="#a9cbf1"/>
<g fill="#a9cbf1"><path d="M510.6,164.1 516.7,159.0 524.7,164.1 520.7,170.1 515.7,168.1Z"/><path d="M713.7,46.1 721.8,45.0 727.8,50.1 731.9,54.1 730.9,60.2 725.8,58.2 719.8,58.2 712.7,53.1Z"/><path d="M665.3,95.5 671.3,94.9 670.3,98.5 666.3,98.5Z"/><path d="M673.4,98.5 676.4,94.1 679.0,98.5 673.4,99.5Z"/><path d="M786.3,533.3 791.4,534.3 791.4,540.3 787.4,538.3Z"/><path d="M453.5,182.5 457.0,182.0 459.5,183.5 459.0,185.5 455.0,185.5 453.5,184.0Z"/><path d="M543.0,187.0 548.0,186.0 553.5,184.5 553.0,187.0 549.0,189.5 544.0,190.0Z"/><path d="M76.3,216.6 77.7,214.2 89.8,216.2 84.7,219.6 77.7,221.0Z"/><path d="M41.4,235.8 51.5,240.8 48.4,244.8 41.4,244.8Z"/></g>
<g fill="none" stroke="#c6c4ca" stroke-width="0.7"><path d="M359.6,83.4 366.7,88.0 374.7,87.4 382.8,89.4 390.9,87.4 399.0,79.3 407.0,80.4 411.1,85.4 421.1,87.4 431.2,86.4 439.3,82.4 450.0,77.9 447.1,77.9 455.1,80.4 464.2,76.3 467.2,69.3 476.3,66.2 488.4,63.8 492.5,65.2 508.6,62.2 514.7,65.8 520.7,66.2 528.8,70.7 534.8,70.3 536.8,66.6 544.9,69.9 552.0,71.9 556.6,70.3 555.0,61.2 550.0,59.2 550.6,53.1 559.0,49.1 557.4,44.0"/><path d="M528.8,70.7 525.8,74.3 532.4,76.7 530.8,85.4 526.8,89.4 528.8,97.5 533.2,99.5 531.8,104.6 533.8,110.6 530.4,116.7 535.8,123.7 537.9,128.8 544.9,133.8 553.0,136.8 563.1,136.8 573.2,142.9 581.2,144.5 591.3,145.3 600.0,150.6 635.0,162.1 638.0,166.1 647.1,167.5 650.2,163.1 655.2,165.1 659.2,167.1 660.2,161.1 665.3,159.0 670.3,156.0 671.3,150.0"/><path d="M763.1,44.0 766.2,49.1 765.2,54.1 770.2,62.2 773.2,68.2 772.2,74.3 767.2,78.3 768.2,83.4 762.1,84.4 759.7,88.4 762.1,92.5 756.1,97.5 750.0,102.5 756.1,105.6 758.1,109.6 752.0,115.7 742.0,110.6 735.9,109.2 732.3,112.6 734.9,118.7 739.9,123.1 746.0,124.7 748.0,128.8 752.0,126.8 753.7,130.8 750.0,134.8 758.1,133.8 763.1,127.8 759.1,122.7 760.1,117.7 766.2,113.6 771.2,110.6 775.2,114.7 776.3,120.7 782.3,123.1 791.4,124.3"/><path d="M679.4,113.0 688.5,115.7 690.5,121.7 694.5,126.8 695.5,132.8 701.6,137.9 707.7,140.9 712.7,144.9 715.7,139.3 719.8,142.9 721.8,146.9 725.8,144.9 729.8,149.0 733.9,146.9 738.9,145.9 739.5,138.9 742.0,134.8 750.0,134.8"/><path d="M679.4,113.0 675.4,114.7 671.3,118.7 670.3,124.7 676.4,130.8 672.3,135.8 669.9,141.9 672.3,149.0 676.4,150.0 683.4,153.0 687.5,159.0 690.5,166.1 695.5,171.1 691.5,166.1 697.2,173.1 693.5,179.2 697.6,186.2 699.6,195.3 700.6,206.4 702.6,218.5 703.2,228.6 704.0,237.7 707.2,240.7 708.1,233.6 712.7,227.6 717.7,233.6 721.8,240.7 723.8,247.8 730.9,247.8 734.9,254.8 738.9,262.9 744.0,270.0 747.0,278.0 752.0,284.1 760.1,281.1 766.2,279.0 773.2,276.0 771.2,266.9 772.2,257.9 780.3,250.8 782.3,242.7 787.4,236.7 790.4,231.6"/><path d="M702.6,220.5 697.6,224.6 693.5,229.6 693.1,236.7 694.5,240.7 687.5,241.7 685.9,237.7"/><path d="M633.0,164.0 641.1,166.1 648.1,169.1 652.2,164.0 659.2,166.1 661.2,160.0"/><path d="M790.4,256.8 784.3,264.9 787.4,274.0 790.4,275.0"/></g>
<g fill="none" stroke="#a4a3b8" stroke-width="1.5" stroke-linejoin="round"><path d="M-1.0,58.6 11.1,58.6 11.1,66.2 12.1,70.3 11.1,74.3 13.1,76.3 13.1,81.4 12.1,88.4 10.1,90.4 9.1,98.5 7.1,103.6 4.0,105.6 7.1,110.6 -1.0,111.6"/><path d="M-1.0,126.8 7.1,127.8 -1.0,135.8"/><path d="M0.0,136.8 3.0,146.9 5.0,156.0 4.0,163.1 5.0,172.0"/><path d="M13.1,81.4 18.2,85.4 26.2,85.4 30.3,88.4 32.3,92.5 34.3,88.4 38.3,90.0 46.4,85.4 47.4,80.4 46.4,76.3 52.5,75.9 62.5,71.9 64.6,70.3 71.6,66.2 75.7,58.2 77.7,48.1 82.7,45.0 91.8,44.0"/><path d="M120.1,44.0 123.1,46.1 129.1,45.0 132.2,48.1 136.2,51.7 141.2,49.1 147.3,45.6 153.3,44.4 157.4,47.1 160.0,48.1 146.1,45.6 154.1,44.4 158.2,48.1 162.2,45.0"/><path d="M198.5,44.0 198.5,52.1 202.5,57.2 208.6,54.1 216.7,50.1 222.7,45.0 224.7,44.0"/><path d="M281.2,65.2 279.2,59.2 272.2,56.1 269.1,51.1 261.1,48.1 255.0,49.1 253.0,49.1 244.9,54.1 238.9,52.5 226.8,53.7 216.7,54.5 208.6,59.2 202.5,63.2 198.5,67.2 194.1,71.9 197.5,75.3 200.5,82.4 199.5,85.4 202.1,89.4 199.5,93.5 195.5,98.5 191.5,104.6 193.5,110.6 191.5,115.7 185.4,117.7 176.3,117.7 169.9,117.1 172.3,122.7 176.3,125.8 177.3,131.8 172.3,134.8 164.2,137.9 161.2,143.9 158.2,151.0 159.2,161.1 154.1,168.1 150.1,169.1 146.1,166.1 140.0,165.1"/><path d="M237.9,44.0 242.9,45.0 246.9,44.0"/><path d="M253.0,45.0 255.0,49.1"/><path d="M48.4,268.0 48.4,272.0 40.4,273.0 32.3,274.4 30.3,279.1 25.2,280.1 24.2,285.1 21.2,291.2 20.2,298.2 19.2,303.3"/><path d="M4.0,150.0 5.0,160.1 4.4,171.2 12.1,172.6 21.2,174.2 23.8,182.3 21.2,187.3 15.1,195.4 10.1,201.5 5.6,206.5"/><path d="M5.6,206.5 16.1,209.5 26.2,213.0 34.3,215.6 44.4,215.0 54.5,213.8 64.6,216.0 69.6,212.5 80.7,213.0 90.8,210.1 100.9,207.5 104.9,204.5 103.9,198.4 104.5,190.4 105.9,183.3 110.0,182.3 113.0,177.2 118.0,175.8 121.1,177.8 128.1,175.8 132.2,174.2 128.1,172.2 133.2,169.2 139.2,164.5 145.3,166.1 149.3,165.1 151.3,169.2 156.4,167.2 159.4,162.1 158.4,150.0"/><path d="M5.6,206.5 10.1,210.5 14.5,216.6 17.2,224.7 24.2,232.7 32.3,235.8 37.3,239.8 40.4,239.8 40.4,248.9 41.4,260.0 48.4,260.6 50.4,263.0 48.4,272.7 40.4,273.5 32.3,275.5 30.3,280.1 24.2,282.0"/><path d="M372.0,198.4 373.9,201.6 377.0,202.2 378.3,197.8 380.8,194.6 383.9,193.8 390.0,195.3 393.6,200.6 398.0,202.5 401.8,205.7 406.8,209.5 411.9,212.0 415.7,215.8 420.1,220.8 423.2,218.9 429.5,218.3 430.8,222.7 433.3,226.5 437.1,229.6 440.2,231.9 445.2,230.6 447.1,233.8 447.1,237.6 450.3,239.5 455.3,238.8 457.8,236.9 460.4,241.3 463.5,246.4 465.4,242.0 467.3,245.1 470.4,246.4 474.2,242.6 478.0,243.9 484.3,248.3 490.6,248.9 495.7,246.4 502.0,245.8"/><path d="M516.3,258.2 518.8,254.7 520.4,253.7 522.4,250.1 524.9,246.6 527.9,243.1 531.5,240.0 534.0,238.5 537.5,239.0 537.0,238.4 540.1,237.5 543.3,239.0 545.8,242.8 550.2,244.7 555.3,243.8 559.0,242.8 562.8,244.7 565.4,248.5"/><path d="M537.5,239.0 536.5,241.6 535.0,240.0"/><path d="M543.3,239.0 541.4,240.3"/><path d="M583.3,364.8 583.8,370.4 583.8,377.4 584.8,379.9 582.8,378.4 579.8,375.9 576.2,378.9 575.7,382.5"/><path d="M672.3,237.7 674.4,234.2 678.4,236.7 682.4,240.7 685.9,243.7 687.1,251.8 691.5,252.8 694.5,256.8 696.0,264.9 695.5,275.0 693.9,282.1 693.5,288.1 687.5,294.1 683.4,300.2 677.4,302.2 676.4,310.3 673.4,312.3 674.4,320.4 676.4,323.4 674.4,328.4 683.4,324.0 693.5,324.0 698.0,322.8 693.9,327.4 696.6,333.5 698.6,341.5 704.6,344.2 710.1,345.0 708.7,349.6 705.6,352.6 706.0,357.7 703.2,362.7 709.7,363.1 716.1,364.7 718.8,371.8 721.8,374.8 727.8,375.8 737.9,370.4 739.5,375.8 742.0,380.9 749.0,379.9 752.0,381.3 749.6,371.8 749.0,365.8 746.4,360.7 749.0,356.3 754.1,357.1 759.1,356.7 764.1,350.6 770.2,353.6 773.2,356.7 779.3,349.6 782.3,353.0 785.3,350.2 791.4,355.7 794.4,356.7"/><path d="M756.1,356.7 762.1,363.7 766.2,368.8 768.2,372.4 772.2,369.8 772.2,374.8 770.2,379.9 774.2,385.9 781.3,389.0 786.3,391.0 791.4,386.9 794.4,385.9"/><path d="M737.9,370.4 737.9,376.4 731.9,378.9 729.4,384.9 726.8,387.9 730.9,387.9 722.8,390.0 719.8,397.0 716.1,395.4 710.7,397.0 708.7,397.0 710.1,401.1 702.6,403.1 698.6,408.1 691.5,411.1 683.4,408.5 679.4,414.1 678.4,422.2 676.4,428.2 676.4,432.3 670.3,432.3 672.3,437.3 675.4,439.3 676.4,445.4 680.4,450.4 685.5,456.5 690.5,462.5 692.5,468.6 694.5,474.7 698.6,474.2 697.2,478.7 692.5,480.7 691.5,488.8 690.5,493.2 685.9,494.8 685.9,500.9 688.5,506.9 693.5,513.0 700.6,517.0 702.6,523.1 702.6,521.2 703.6,533.3 702.6,536.3 705.6,542.4 708.7,545.4 709.7,554.5 712.1,559.5 707.7,563.5 703.6,572.6 696.6,580.7 695.5,586.7 691.9,594.8"/><path d="M719.8,397.0 721.8,399.0 725.8,397.0 729.4,402.1 727.8,407.1 727.8,404.0 725.8,410.1 727.8,413.7 733.9,413.1 740.9,413.7 742.0,422.2 738.9,430.3 738.9,436.3 739.9,442.4 735.9,448.4 736.9,452.9 743.0,449.4 749.0,445.4 756.1,439.3 762.1,443.4 766.2,446.8 772.2,442.8 777.3,436.3 782.3,434.7 790.4,437.3 794.4,438.3"/><path d="M794.4,512.6 791.4,512.0 783.3,510.6 776.3,513.0 772.2,517.0 768.2,524.1 762.1,527.1 760.5,532.3 763.7,539.3 764.1,544.4 768.2,548.8 768.6,554.5 772.2,562.5"/><path d="M324.3,149.0 330.4,145.9 333.4,151.0 337.4,153.0 341.5,150.0 344.5,144.9"/></g>
<g fill="none" stroke="#a4a3b8" stroke-width="1.5" stroke-dasharray="5 2.5"><path d="M281.2,65.2 280.2,71.3 284.3,76.3 290.3,75.3 292.3,79.3 296.4,83.4 300.0,87.4 295.0,81.4 302.1,83.4 310.2,84.4 318.2,84.0 321.3,79.3 328.3,76.3 334.4,73.9 343.5,73.3 347.5,78.3 352.5,83.4 359.6,83.4"/><path d="M318.2,84.0 318.2,90.4 321.3,97.5 324.3,103.6 330.4,106.6 335.4,108.6 346.5,107.6 351.5,104.6 356.6,97.5 359.6,89.4 359.6,83.4"/><path d="M335.4,108.6 331.4,115.7 330.4,120.7 332.4,126.8 335.4,131.8 339.4,136.8 340.4,142.9 344.5,144.9 341.5,150.0"/><path d="M346.5,107.6 344.5,114.7 342.5,117.7 333.4,117.7"/><path d="M342.5,117.7 338.4,124.7 339.4,129.8 343.5,134.8 346.5,139.9 347.5,143.9 344.5,146.9"/><path d="M290.0,99.5 295.0,97.5 300.1,93.5 298.1,87.4 295.0,81.4"/><path d="M300.0,94.5 293.3,97.5 285.3,101.5 277.2,105.6 269.1,104.6 261.1,100.5"/></g>
<g stroke="#000" stroke-width="1.05" stroke-linejoin="miter" stroke-miterlimit="3">
<path fill="#f5d98a" d="M270.6,154.3 267.9,153.1 264.1,150.6 260.3,149.9 257.2,147.4 256.5,143.6 252.1,143.0 249.9,141.4 246.4,139.9 241.4,138.0 237.6,133.5 237.6,127.9 237.5,125.5 236.3,121.6 236.7,117.8 235.7,115.3 235.8,112.5 233.8,109.0 235.1,105.2 238.9,103.3 241.4,100.1 245.8,97.6 246.4,93.8 249.6,94.5 253.4,92.8 255.9,97.0 258.5,97.6 261.6,100.1 262.8,102.0 267.9,104.5 269.1,108.3 271.9,109.4 274.2,112.1 278,116.5 282.4,118.4 285.4,120.7 286.8,124.1 290.6,128.5 292.4,131.5 295.6,134.7 291.8,135.4 286.8,136.7 285.1,138.9 281.7,140.5 278,141.1 278.6,144.3 279.9,146.8 279.2,149.8 274.8,153.7 270.6,154.3Z"/>
<path fill="#f5d98a" d="M279.2,149.8 279.9,146.8 278.6,144.3 278,141.1 281.7,140.5 285.1,138.9 286.8,136.7 291.8,135.4 295.6,134.7 298.3,137.0 300.6,139.5 302.9,141.4 306.2,142.6 309.8,141.1 312.6,140.1 315.6,142.7 317.6,147.0 320.4,145.5 323.9,145.1 325.2,150.2 327.6,153.0 328.9,157.1 329.2,159.6 332.1,162.8 332.1,167.8 333.4,173.5 334,175.5 334.8,179.5 330.4,177.6 327.1,176.3 324,176.3 319,178.2 314.6,180.8 312.7,185.2 313.3,190.2 312.7,193.8 310.9,194.8 305.1,193.4 302,190.2 298.2,185.8 295.3,185.1 292.4,180.4 290.5,176.0 286.7,174.1 284.2,174.1 284,171.4 281.7,168.5 279.7,165.2 279.1,162.8 274.7,159.6 274.1,157.1 275.3,153.9 279.2,149.8Z"/>
<path fill="#f5d98a" d="M270.6,154.3 268.4,158.4 264.7,160.5 262.1,160.3 257.1,162.2 253.9,167.2 255.8,172.2 255.7,175.8 254.5,178.5 257.1,180.4 254.6,183.8 251.4,186.7 250.1,189.2 247.6,190.9 245.2,193.1 243.2,195.6 243.1,199.0 243.4,202.0 245.7,202.8 248.9,204.4 254.6,205.4 259.6,203.5 262.1,205.9 265.3,206.9 269,209.7 272.2,207.6 275.4,207.2 279.1,206.9 283.5,208.8 284.5,205.9 285.4,203.1 289.2,201.9 290.5,200.0 294.3,198.1 298.1,194.9 298.1,190.5 297.4,187.3 295.3,185.1 292.4,180.4 290.5,176.0 286.7,174.1 284.2,174.1 284,171.4 281.7,168.5 279.7,165.2 279.1,162.8 274.7,159.6 274.1,157.1 275.3,153.9 279.2,149.8 274.8,153.7 270.6,154.3Z"/>
<path fill="#f5d98a" d="M310.9,194.8 312.7,193.8 313.3,190.2 312.7,185.2 314.6,180.8 319,178.2 324,176.3 327.1,176.3 330.4,177.6 334.8,179.5 334,175.5 337.3,172.8 340.4,176.3 344.2,180.8 348,182.7 351.8,182.7 355.2,186.1 358.1,187.7 358.7,190.9 361.4,192.9 365.7,194.0 368.7,195.2 372,198.4 368.2,202.8 365,205.9 361.9,209.1 360.6,212.9 358.7,216.7 358.7,220.5 355.6,225.5 354.8,229.4 351.8,227.4 349.2,226.2 344.2,226.8 342.9,224.5 339.8,222.4 337.6,220.9 333.5,219.2 332.2,216.7 334.1,214.8 329.1,211.7 325.3,208.5 322.4,209.4 318.4,212.3 314,208.5 312.7,204.1 315.1,200.5 316.5,198.4 313.4,196.3 310.9,194.8Z"/>
<path fill="#f5d98a" d="M295.3,185.1 297.4,187.3 298.1,190.5 298.1,194.9 294.3,198.1 290.5,200.0 289.2,201.9 285.4,203.1 284.5,205.9 283.5,208.8 279.1,206.9 275.4,207.2 272.2,207.6 269,209.7 265.3,206.9 262.1,205.9 259.6,203.5 254.6,205.4 255.8,208.9 254.5,212.7 255.1,215.8 260.8,217.1 265.9,219.0 270.3,221.5 271.5,225.9 273.4,230.9 275.7,234.0 277.8,235.4 282.2,239.1 282.9,242.3 280.4,243.5 281,247.3 284.8,249.2 284.8,244.8 288.5,242.3 291.7,244.8 296.1,241.0 298.6,242.9 298,248.0 298.6,251.7 301.8,249.9 304.9,249.2 309.4,245.4 309.4,240.4 306.8,235.4 306.2,234.1 305.6,230.9 303.7,227.2 303.1,221.5 303.1,217.2 301.8,213.9 303.4,209.9 303.1,206.3 304.1,203.5 306.8,200.7 308.7,198.2 310.9,194.8 305.1,193.4 302,190.2 298.2,185.8 295.3,185.1Z"/>
<path fill="#dd7472" d="M243.4,202.0 239.8,203.7 237.8,202.9 233.9,204.5 232.9,206.9 232,211.4 231.2,214.6 228.8,217.7 226.7,220.7 225,223.4 220,225.9 214.9,229.0 213.1,232.8 211.8,237.2 208,241.7 206.1,245.4 203.4,245.6 200.4,247.3 196.8,248.5 193.5,248.6 191,250.6 187.2,251.1 184.7,249.2 183.4,245.4 180.3,244.4 176.5,246.7 173.3,251.1 171.4,254.9 167.7,258.7 163.9,263.1 162.6,267.5 163.9,270.7 168.9,273.8 174.6,274.4 175.2,278.8 173.3,283.9 175.2,288.9 179.6,292.1 183.4,292.7 184.7,298.4 186.2,301.4 188.5,303.4 190.1,307.9 191,310.4 191.7,313.6 196.7,312.9 200.4,313.4 203,312.2 206.3,313.0 209.3,312.2 214.3,314.1 218.1,317.3 223.1,318.5 226.9,316.7 230.1,318.5 228.8,321.7 231.5,324.4 234,325.7 233.4,328.8 236.6,332.0 239.1,335.8 243.5,338.9 248.5,340.8 251.1,344.0 255.5,343.3 258,341.4 254.9,339.5 256.7,336.4 260.5,333.9 262.4,330.7 261.8,326.3 262,323.1 259.5,319.3 258.2,314.3 260.7,311.1 260.1,307.3 263.9,308.6 266.4,305.4 269.5,306.7 269.5,310.5 274,311.1 278.4,311.1 279.6,314.9 277.1,317.4 278.4,320.6 277.1,325.0 272.1,327.5 273.3,330.0 276.5,329.4 280.3,326.9 283.4,323.7 284,319.9 288.5,321.2 292.9,320.6 297.3,323.7 298.5,320.6 297.3,316.8 299.8,312.4 296.7,309.2 297.9,305.4 303,304.2 306.7,302.3 305.5,297.9 303,299.1 297.9,299.8 292.9,298.5 290.4,294.1 291,289.7 295.4,285.9 297.1,284.2 300.4,282.1 302.8,279.6 306.7,278.3 309.7,277.4 313.1,274.5 315.5,272.2 318.7,271.4 321.9,267.4 318.9,267.3 315.6,267.6 312.6,269.2 309.3,269.5 307.4,268.2 311.8,265.7 311.2,261.8 308.7,258.1 305.6,253.6 304.9,249.2 301.8,249.9 298.6,251.7 298,248.0 298.6,242.9 296.1,241.0 291.7,244.8 288.5,242.3 284.8,244.8 284.8,249.2 281,247.3 280.4,243.5 282.9,242.3 282.2,239.1 277.8,235.4 275.7,234.0 273.4,230.9 271.5,225.9 270.3,221.5 265.9,219.0 260.8,217.1 255.1,215.8 254.5,212.7 255.8,208.9 254.6,205.4 248.9,204.4 245.7,202.8 243.4,202.0Z"/>
<path fill="#f5d98a" d="M191.7,313.6 188.6,315.8 191.8,317.7 188,320.8 183,321.2 181.7,317.7 178.8,319.4 174.1,319.5 169.8,319.3 165.3,320.2 161,318.9 157.9,320.2 155.2,319.5 150.2,320.2 148.9,325.9 146.1,326.9 142.6,327.1 138.8,330.3 139.5,334.0 142.6,332.8 144.5,331.1 147.7,329.6 146.3,332.9 143.9,334.7 143.9,337.8 146.4,339.7 147.7,342.9 152.7,346.0 155.3,347.1 159,349.2 163.5,349.8 166.6,350.4 170.4,349.2 174.1,347.3 177.4,347.0 180.4,345.4 177.3,350.4 173.5,354.2 171.1,355.0 167.8,356.7 162.8,358.6 157.7,360.5 155.9,358.0 152.7,358.6 155.2,362.4 157.6,364.8 160.3,367.5 163.3,370.2 166.6,373.1 167.9,375.8 171.6,378.8 171.4,380.7 174.1,382.6 177.7,386.4 181.2,388.1 183.4,389.5 187.8,390.8 192.9,389.5 197.1,387.8 200.4,386.4 205.5,383.9 209.9,382.0 212.4,377.6 213.7,373.8 214.3,370.0 212.6,365.4 213.3,361.8 215.1,359.7 219.1,359.4 223.3,360.4 218.9,363.5 219.5,367.3 218.3,370.4 220.8,372.3 219.5,376.7 218.9,380.5 220.8,382.8 222.1,385.6 223.2,388.9 224,391.9 222.9,395.0 223.3,398.2 222.7,401.5 224.6,399.4 227.1,398.8 230.3,401.3 233.4,399.4 234,394.4 236.6,391.9 240.4,393.8 243.5,390.6 242.9,385.6 238.5,382.4 241.6,381.2 244.8,377.4 249.2,376.1 250.4,374.9 247,374.5 242.9,374.2 241.6,371.1 243.5,368.5 248.5,366.7 247.9,365.4 246.7,361.6 248.5,359.1 246,357.8 247.3,355.3 251.7,352.8 253,349.0 251.1,344.0 248.5,340.8 243.5,338.9 239.1,335.8 236.6,332.0 233.4,328.8 234,325.7 231.5,324.4 228.8,321.7 230.1,318.5 226.9,316.7 223.1,318.5 218.1,317.3 214.3,314.1 209.3,312.2 206.3,313.0 203,312.2 200.4,313.4 196.7,312.9 191.7,313.6Z"/>
<path fill="#dd7472" d="M310.9,194.8 313.4,196.3 316.5,198.4 315.1,200.5 312.7,204.1 314,208.5 318.4,212.3 322.4,209.4 325.3,208.5 329.1,211.7 334.1,214.8 332.2,216.7 333.5,219.2 337.6,220.9 339.8,222.4 342.9,224.5 344.2,226.8 349.2,226.2 351.8,227.4 354.8,229.4 357.7,229.0 362.7,232.2 363.3,230.9 366.4,231.9 369,234.0 371.9,236.1 376.6,237.8 377.8,241.6 381.2,242.7 384.1,244.8 388.5,247.9 391.1,246.7 396.1,249.8 399.3,251.6 401.8,251.7 403.1,254.9 408.7,256.1 413.1,258.6 416.3,256.1 422,256.7 425.1,257.3 425.8,260.5 427.6,265.6 432,300.0 420,318.0 395,318.0 370,312.0 345.2,304.2 343.9,301.7 340.8,300.4 338.3,302.3 334.5,299.8 333.2,295.4 329.9,297.6 327.6,298.5 326.9,301.7 329.4,304.8 332,309.2 333.2,313.0 335.8,316.8 333.2,321.8 328.8,319.3 325.7,319.3 323.1,314.9 321.2,309.9 323.1,306.7 325.7,302.9 323.8,299.8 324.4,297.2 328.2,294.7 332.6,292.8 333.9,289.0 337,284.0 339.1,280.5 339.5,278.3 337,275.8 335.8,272.7 330.7,270.1 325.7,269.5 321.9,267.4 318.9,267.3 315.6,267.6 312.6,269.2 309.3,269.5 307.4,268.2 311.8,265.7 311.2,261.8 308.7,258.1 305.6,253.6 304.9,249.2 309.4,245.4 309.4,240.4 306.8,235.4 306.2,234.1 305.6,230.9 303.7,227.2 303.1,221.5 303.1,217.2 301.8,213.9 303.4,209.9 303.1,206.3 304.1,203.5 306.8,200.7 308.7,198.2 310.9,194.8Z"/>
<path fill="#c6516f" d="M321.9,267.4 325.7,269.5 330.7,270.1 335.8,272.7 337,275.8 339.5,278.3 339.1,280.5 337,284.0 333.9,289.0 332.6,292.8 328.2,294.7 324.4,297.2 323.8,299.8 325.7,302.9 323.1,306.7 321.2,309.9 323.1,314.9 325.7,319.3 328.8,319.3 333.2,321.8 335.8,316.8 333.2,313.0 332,309.2 329.4,304.8 326.9,301.7 327.6,298.5 329.9,297.6 333.2,295.4 334.5,299.8 338.3,302.3 340.8,300.4 343.9,301.7 345.2,304.2 370,312.0 395,318.0 375,345.0 369,369.5 367.1,374.0 365.2,378.0 361.4,374.0 357.7,372.7 352.6,372.7 348.8,374.6 345,373.3 345.8,373.5 342.1,371.6 338.3,372.2 333.2,374.8 329.4,375.4 324.4,373.5 320.6,374.8 316.8,376.7 311.8,377.9 308,376.7 309.3,374.1 308,371.0 304.2,370.4 300.4,371.0 296,374.1 294.8,377.3 292.2,381.1 287.8,383.6 284.7,383.0 283.4,379.8 280.9,377.3 275.2,377.9 271.9,378.0 269.5,376.2 266.2,376.1 263.1,373.6 258.6,372.3 254.9,369.8 252.3,366.0 248.5,366.7 247.9,365.4 246.7,361.6 248.5,359.1 246,357.8 247.3,355.3 251.7,352.8 253,349.0 251.1,344.0 255.5,343.3 258,341.4 254.9,339.5 256.7,336.4 260.5,333.9 262.4,330.7 261.8,326.3 262,323.1 259.5,319.3 258.2,314.3 260.7,311.1 260.1,307.3 263.9,308.6 266.4,305.4 269.5,306.7 269.5,310.5 274,311.1 278.4,311.1 279.6,314.9 277.1,317.4 278.4,320.6 277.1,325.0 272.1,327.5 273.3,330.0 276.5,329.4 280.3,326.9 283.4,323.7 284,319.9 288.5,321.2 292.9,320.6 297.3,323.7 298.5,320.6 297.3,316.8 299.8,312.4 296.7,309.2 297.9,305.4 303,304.2 306.7,302.3 305.5,297.9 303,299.1 297.9,299.8 292.9,298.5 290.4,294.1 291,289.7 295.4,285.9 297.1,284.2 300.4,282.1 302.8,279.6 306.7,278.3 309.7,277.4 313.1,274.5 315.5,272.2 318.7,271.4 321.9,267.4Z"/>
<path fill="#dd7472" d="M365.2,378.0 367.1,374.0 369,369.5 375,345.0 395,318.0 420,318.0 425,352.0 418.2,368.9 416.3,372.7 415.7,377.1 413.1,379.6 411.9,382.8 408.1,382.2 404.3,382.8 401.8,384.0 399.3,387.8 397.4,389.1 397.4,393.5 398,397.3 397.4,401.7 399.3,404.2 403.1,405.5 403.1,408.0 400.5,408.6 397.4,406.7 394.2,404.9 389.8,403.0 387.9,405.5 389.8,408.6 391.7,412.4 392.3,418.1 394.2,422.5 394.2,426.9 392.3,429.4 389.2,430.7 388.5,432.6 385.4,435.8 382.2,438.3 381,442.7 381,446.5 377.8,446.5 373.4,447.1 372.2,444.0 370.9,440.8 368.4,439.5 365.9,435.1 362.7,432.0 359.8,429.2 359.5,425.7 362.1,421.9 365.2,418.7 368.4,418.1 370.3,414.9 367.7,412.4 365.2,409.3 362.7,405.5 362.1,400.4 365.2,396.7 364.6,391.6 362.7,386.6 363.3,381.5 365.2,378.0Z"/>
<path fill="#f09a78" d="M448.2,316.5 452.6,314.6 456.4,312.7 458.3,310.2 462.7,310.8 465.9,312.7 469,316.5 470.9,318.4 474,315.2 477.8,314.0 481.6,313.3 483.5,308.9 484.8,304.5 487.9,302.0 490.4,298.8 493,299.5 496.4,298.8 496.1,302.6 498.6,307.7 499.3,311.4 497.4,315.2 495.5,319.0 493.6,322.8 490.4,324.7 487.3,325.9 484.1,328.5 479.1,330.4 475.3,332.2 472.6,333.5 469.6,334.1 465.9,336.0 463.3,334.8 460.8,337.9 460.2,341.1 463.3,343.6 467.7,345.5 471.5,347.4 472.2,350.5 475.9,353.7 477.8,355.6 477.8,359.4 475.3,360.7 470.9,358.2 466.5,355.7 463.3,356.3 462.2,359.3 462.7,363.2 460.2,366.4 456.4,363.2 452,362.6 448.2,364.5 425,352.0 420,318.0 432,300.0 448.2,316.5Z"/>
<path fill="#f09a78" d="M425.1,257.3 429.5,255.2 433.9,257.7 438.9,259.0 440.2,264.7 443.3,265.9 448.4,268.5 449,270.4 453.6,270.1 456.6,268.5 458.5,272.2 461,274.1 463.5,272.9 467.4,273.6 470.4,273.5 473.3,275.9 476.1,276.7 478.2,275.9 481.8,274.1 482.4,277.3 485.6,277.9 488.5,278.2 493.1,276.7 497.6,275.4 502.7,274.8 504.2,276.4 504.7,278.4 501.7,281.4 498.2,284.4 496.6,287.0 498.2,290.0 500.2,292.5 500.7,295.5 498.7,297.0 496.4,298.8 493,299.5 490.4,298.8 487.9,302.0 484.8,304.5 483.5,308.9 481.6,313.3 477.8,314.0 474,315.2 470.9,318.4 469,316.5 465.9,312.7 462.7,310.8 458.3,310.2 456.4,312.7 452.6,314.6 448.2,316.5 432,300.0 427.6,265.6 425.8,260.5 425.1,257.3Z"/>
<path fill="#f8b57a" d="M381,446.5 381,442.7 382.2,438.3 385.4,435.8 388.5,432.6 389.2,430.7 392.3,429.4 394.2,426.9 394.2,422.5 392.3,418.1 391.7,412.4 389.8,408.6 387.9,405.5 389.8,403.0 394.2,404.9 397.4,406.7 400.5,408.6 403.1,408.0 403.1,405.5 399.3,404.2 397.4,401.7 398,397.3 397.4,393.5 397.4,389.1 399.3,387.8 401.8,384.0 404.3,382.8 408.1,382.2 411.9,382.8 413.1,379.6 415.7,377.1 416.3,372.7 418.2,368.9 425,352.0 448.2,364.5 452,362.6 456.4,363.2 460.2,366.4 462.7,363.2 462.2,359.3 463.3,356.3 466.5,355.7 470.9,358.2 475.3,360.7 477.8,359.4 479.7,362.6 482.9,366.4 486.7,368.9 489.8,372.1 491.1,373.3 488.6,373.3 485.4,375.2 481,378.4 478.5,382.2 479.7,386.6 481,390.4 478.5,394.1 477.2,397.9 472.8,401.7 469,404.9 465.9,405.4 462.7,407.4 460.6,408.9 456.4,409.9 453.2,410.8 451.3,413.1 448.4,414.8 446.3,417.5 443.2,420.6 440,422.1 437.7,423.8 434.6,426.3 430.8,428.2 427,427.6 423.2,424.4 420.1,421.9 415.7,424.4 414.4,426.9 411.2,429.5 408.7,432.6 408.1,436.4 404.9,435.8 401.8,437.0 399.9,433.9 398,434.5 396.7,438.3 396.1,443.3 393,442.1 388.5,443.3 385.4,445.9 381,446.5Z"/>
<path fill="#dd7472" d="M500.7,262.2 500.7,265.3 502.7,268.3 503.7,271.8 502.7,274.8 504.2,276.4 504.7,278.4 501.7,281.4 498.2,284.4 496.6,287.0 498.2,290.0 500.2,292.5 500.7,295.5 498.7,297.0 496.4,298.8 496.1,302.6 498.6,307.7 499.3,311.4 497.4,315.2 495.5,319.0 493.6,322.8 490.4,324.7 487.3,325.9 484.1,328.5 479.1,330.4 475.3,332.2 472.6,333.5 469.6,334.1 465.9,336.0 463.3,334.8 460.8,337.9 460.2,341.1 463.3,343.6 467.7,345.5 471.5,347.4 472.2,350.5 475.9,353.7 477.8,355.6 477.8,359.4 479.7,362.6 482.9,366.4 486.7,368.9 489.8,372.1 491.1,373.3 495.5,371.4 498.6,368.9 501.8,364.5 500.5,362.0 503.1,363.2 502.4,368.3 500.5,372.1 504.3,374.0 506.8,371.4 508.7,373.3 510.6,368.9 511.9,365.1 513.1,368.9 514.4,372.7 516.9,373.3 519.4,372.1 519.4,370.8 519.5,366.3 519.4,361.9 518.8,356.8 517.6,351.8 516.1,347.8 515.7,345.5 517.6,341.7 513.8,340.4 514.4,338.5 511.9,334.8 510,330.4 512.5,327.2 513.1,322.8 511.9,319.6 508.9,319.2 505.6,317.1 501.8,315.2 500.5,312.7 503.1,308.9 506.8,306.4 508.7,302.6 513.1,302.0 517.6,300.7 516.3,299.1 513.3,296.5 510.3,295.5 507.2,292.5 504.2,290.0 501.7,287.5 502.7,283.4 505.2,279.9 508.2,277.4 505.7,275.4 506.7,273.8 508.8,275.9 511.3,276.9 512.8,279.4 515.8,279.4 517.8,277.4 519.3,279.9 521.9,282.4 524.4,284.9 527.4,285.4 529.4,284.4 530.4,281.9 532.5,279.4 533.5,275.4 533.6,271.3 530.4,270.3 526.4,268.3 522.4,268.8 519.3,267.3 516.3,264.8 514.8,261.7 513.8,261.2 510.3,262.2 507.2,263.8 504.2,263.2 500.7,262.2Z"/>
<path fill="#f5d98a" d="M501.7,246.1 506.2,244.6 511.3,242.6 514.3,243.6 515.8,247.6 515.3,251.6 514.3,255.2 515.8,258.7 514.8,261.7 513.8,261.2 510.3,262.2 507.2,263.8 504.2,263.2 500.7,262.2 500.2,258.2 501.2,254.2 502.7,250.1Z"/>
<path fill="#f8b57a" d="M533.6,271.3 538.9,268.7 543.3,267.4 547.7,269.9 551.5,270.2 554,269.3 558.7,269.9 561.6,269.9 565.4,269.7 567.9,268.7 571.9,267.6 574.2,267.8 579.2,266.2 583.2,264.8 585.5,264.3 588.9,265.9 591.8,266.8 594.4,266.8 598.1,266.8 602,266.7 604.4,265.5 606,262.4 608.2,260.5 611.4,257.9 613.3,255.4 618.9,253.5 620.3,251.7 625.3,250.4 629.3,249.5 631.6,247.9 634.7,246.7 637.9,246.0 640.6,246.4 644.9,246.0 643.6,249.2 641.1,251.7 643.6,256.1 644.9,258.6 640.4,259.9 636,261.8 634.1,263.7 631,266.2 626.6,268.7 622.2,271.9 617.1,274.4 613.3,276.3 611.4,280.1 608.8,283.9 605.7,288.3 601.2,292.1 599.4,294.0 597.9,297.1 599.4,300.1 597.4,302.1 595.4,306.1 593.4,310.2 591.9,314.2 590.9,318.2 588.8,318.2 586.8,316.7 585.3,318.2 583.3,320.8 581.3,322.8 578.8,321.8 577.7,319.8 576.7,316.2 577.2,313.2 578.2,310.2 581.3,308.7 580.3,307.2 581.3,305.1 584.8,303.1 585.8,300.1 585.5,298.4 583,295.3 579.8,292.1 576,289.6 576.7,285.2 572.9,285.2 569.1,283.9 564.7,287.1 560.9,288.3 557.1,290.9 554,288.3 548.9,287.7 545.1,285.8 541.3,287.1 536.9,288.3 534.4,292.1 533.8,289.0 531.9,283.9 529.4,284.4 530.4,281.9 532.5,279.4 533.5,275.4 533.6,271.3Z"/>
<path fill="#f5d98a" d="M574.2,267.8 572.9,263.0 574.2,259.2 572.9,256.1 568.5,255.4 565.4,253.5 565.4,249.8 566,248.5 571.7,249.8 575.4,248.5 580.5,248.5 584.9,246.0 584.3,242.2 589.3,239.7 593.7,237.2 594.4,233.4 597.5,231.5 603.2,230.2 605.8,229.1 608.9,227.7 613.9,224.5 615.2,221.4 618.5,219.9 621.5,217.6 624,220.2 626.3,220.8 630.4,222.1 633.4,220.8 636.7,220.2 641.7,218.3 646.1,214.5 649.9,218.9 652.4,219.5 649.3,223.3 649.3,225.9 654.3,222.7 655.1,225.0 656.2,229.0 654.5,232.1 651.8,235.3 652.4,237.2 656.8,234.0 659.2,236.8 661.9,237.8 666.9,238.5 670.7,241.0 669.4,244.1 670.7,247.3 665.7,250.4 661.9,254.2 663.8,258.6 666.3,262.4 664.4,263.7 660.6,259.3 658.7,257.4 653.1,259.3 650.1,259.7 645.5,262.4 642.3,266.2 639.8,268.9 636.7,270.6 631.6,271.9 631,270.0 631,266.2 634.1,263.7 636,261.8 640.4,259.9 644.9,258.6 643.6,256.1 641.1,251.7 643.6,249.2 644.9,246.0 640.6,246.4 637.9,246.0 634.7,246.7 631.6,247.9 629.3,249.5 625.3,250.4 620.3,251.7 618.9,253.5 613.3,255.4 611.4,257.9 608.2,260.5 606,262.4 604.4,265.5 602,266.7 598.1,266.8 594.4,266.8 591.8,266.8 588.9,265.9 585.5,264.3 583.2,264.8 579.2,266.2 574.2,267.8Z"/>
<path fill="#f5d98a" d="M631,266.2 626.6,268.7 622.2,271.9 617.1,274.4 613.3,276.3 611.4,280.1 608.8,283.9 605.7,288.3 601.2,292.1 599.4,294.0 597.9,297.1 599.4,300.1 602,301.1 604.5,298.6 606.5,295.0 610.5,294.5 615.6,296.1 619.1,294.0 619.6,296.1 621.6,298.1 624,296.6 627.1,292.7 629,287.7 627.1,282.7 629.1,279.4 630.4,275.7 631.6,271.9 631,270.0 631,266.2Z"/>
<path fill="#f5d98a" d="M599.4,300.1 602,301.1 604.5,298.6 606.5,295.0 610.5,294.5 615.6,296.1 619.1,294.0 619.6,296.1 621.6,298.1 622.6,302.1 622.1,307.2 620.6,312.2 618.6,316.2 616.1,320.3 614.1,324.3 612,328.8 608.5,327.3 604.5,326.8 600.4,325.3 596.9,324.8 594.4,324.3 590.9,322.3 590.9,318.2 591.9,314.2 593.4,310.2 595.4,306.1 597.4,302.1 599.4,300.1Z"/>
<path fill="#f5d98a" d="M578.8,321.8 581.3,322.8 583.3,320.8 585.3,318.2 586.8,316.7 588.8,318.2 590.9,318.2 590.9,322.3 594.4,324.3 596.9,324.8 598.4,329.3 598.9,333.4 597.9,338.6 597.4,343.1 595.9,345.1 593.9,346.1 594.4,349.2 592.9,352.2 593.9,356.2 594.4,360.3 592.9,362.3 591.4,365.3 588.8,365.3 586.8,363.3 584.3,364.8 583.3,364.3 582.3,360.3 582.3,356.2 581.3,352.2 580.3,348.2 579.3,343.1 578.8,338.6 578.2,334.0 578.3,330.1 578.2,325.3Z"/>
<path fill="#f5d98a" d="M576.7,316.2 574.2,318.2 571.7,319.8 569.2,321.8 566.1,322.3 563.1,323.8 560.1,325.8 558.1,328.8 557.1,331.9 558.1,335.4 559.6,338.4 560.6,340.9 562.1,343.5 565.1,347.0 568.7,345.0 568.7,341.5 570.2,338.4 571.7,334.4 573.2,332.4 576.7,330.4 577.7,327.3 578.2,325.3 578.8,321.8Z"/>
<path fill="#f5d98a" d="M580.3,307.2 581.3,305.1 584.8,303.1 585.8,300.1 585.5,298.4 583,295.3 579.8,292.1 576,289.6 576.7,285.2 572.9,285.2 569.1,283.9 564.7,287.1 560.9,288.3 557.1,290.9 554,288.3 548.9,287.7 545.1,285.8 541.3,287.1 536.9,288.3 534.4,292.1 533.8,294.6 533.2,297.8 536.3,299.7 541.3,301.6 546.4,302.2 549.2,301.1 552.7,301.6 555.3,302.0 559,302.2 562.6,302.4 565.3,302.8 568.9,303.1 571.6,302.2 576.7,302.8 581.1,303.5Z"/>
<path fill="#f8b57a" d="M248.5,366.7 252.3,366.0 254.9,369.8 258.6,372.3 263.1,373.6 266.2,376.1 269.5,376.2 271.9,378.0 275.2,377.9 280.9,377.3 283.4,379.8 284.7,383.0 287.8,383.6 292.2,381.1 294.8,377.3 296,374.1 300.4,371.0 304.2,370.4 308,371.0 309.3,374.1 308,376.7 311.8,377.9 316.8,376.7 320.6,374.8 324.4,373.5 329.4,375.4 333.2,374.8 338.3,372.2 342.1,371.6 345.8,373.5 345,373.3 348.8,374.6 352.6,372.7 357.7,372.7 361.4,374.0 365.2,378.0 363.3,381.5 362.7,386.6 364.6,391.6 365.2,396.7 362.1,400.4 362.7,405.5 365.2,409.3 367.7,412.4 370.3,414.9 368.4,418.1 365.2,418.7 362.1,421.9 359.5,425.7 359.8,429.2 356.4,429.4 353.9,425.7 352,421.9 352.6,418.1 350.1,414.3 347.6,412.4 343.8,414.3 340,412.4 338.3,414.5 334.5,412.0 332.4,410.1 329.4,408.8 323.8,406.9 323.8,411.3 321.9,415.1 320.6,418.9 316.2,417.7 314.3,421.4 313.1,424.0 316.2,427.1 312.4,431.5 309.9,434.0 309.3,437.2 306.1,434.7 304.2,435.3 302.3,438.5 297.9,440.4 297.3,444.1 294.1,446.0 291.6,448.5 287.8,450.4 287.8,455.5 284,455.5 279,454.9 274.6,453.6 273.3,455.5 275.2,459.3 275.2,461.8 271.4,462.4 267,464.3 263.2,463.7 260.1,466.2 255.7,468.7 252.5,470.0 249.9,471.9 250.4,471.9 252.9,475.0 253.5,478.8 251.6,482.0 249.7,485.8 246.6,487.7 243.4,485.8 239.9,486.4 238.4,483.9 235.9,479.5 234.8,478.2 234.1,473.1 232.9,468.1 232.2,463.1 231,458.0 229.7,453.0 228.5,447.9 227.2,442.9 225.9,437.8 225.3,433.4 224,429.6 225.3,427.1 225.9,422.7 223.4,422.1 222.8,416.4 221.5,411.3 220.9,406.3 222.7,401.5 224.6,399.4 227.1,398.8 230.3,401.3 233.4,399.4 234,394.4 236.6,391.9 240.4,393.8 243.5,390.6 242.9,385.6 238.5,382.4 241.6,381.2 244.8,377.4 249.2,376.1 250.4,374.9 247,374.5 242.9,374.2 241.6,371.1 243.5,368.5 248.5,366.7Z"/>
<path fill="#f5d98a" d="M239.9,486.4 243.4,485.8 246.6,487.7 249.7,485.8 250.4,488.9 250.4,494.0 251,499.0 248.5,501.5 246.6,501.5 245.3,499.6 243.4,495.2 241.5,490.8 239.9,486.4Z"/>
<path fill="#f5d98a" d="M309.3,437.2 309.9,434.0 312.4,431.5 316.2,427.1 313.1,424.0 314.3,421.4 316.2,417.7 320.6,418.9 321.9,415.1 323.8,411.3 323.8,406.9 329.4,408.8 332.4,410.1 334.5,412.0 338.3,414.5 340,412.4 343.8,414.3 347.6,412.4 350.1,414.3 352.6,418.1 352,421.9 353.9,425.7 356.4,429.4 359.8,429.2 362.7,432.0 365.9,435.1 368.4,439.5 370.9,440.8 372.2,444.0 373.4,447.1 378.8,448.2 381.6,449.0 381,452.8 377.8,455.3 374,456.6 370.9,457.8 369.6,460.4 365.9,459.7 362.7,461.0 360.2,462.2 364,464.1 363.3,466.0 360.2,464.8 358.3,462.9 355.8,464.1 353.9,467.9 350.1,468.5 346.3,469.2 342.5,470.4 340.5,472.5 339.2,475.7 336.1,476.9 332.9,478.8 328.5,478.8 324.1,480.1 320.3,482.0 317.8,483.2 312.7,482.6 308.6,482.0 309.3,478.2 308,475.0 304.9,473.1 307.4,470.6 308,466.8 308.6,462.4 306.7,458.6 308.6,455.5 311.8,453.0 308,451.1 308.6,448.5 311.2,444.1 310.5,440.4 309.3,437.2Z"/>
<path fill="#c6516f" d="M308.6,482.0 312.7,482.6 317.8,483.2 320.3,482.0 324.1,480.1 328.5,478.8 332.9,478.8 336.1,476.9 339.2,475.7 340.5,472.5 342.5,470.4 346.3,469.2 350.1,468.5 353.9,467.9 355.8,464.1 358.3,462.9 360.2,464.8 363.3,466.0 364,464.1 360.2,462.2 362.7,461.0 365.9,459.7 369.6,460.4 370.9,457.8 374,456.6 377.8,455.3 381,452.8 381.6,449.0 378.8,448.2 373.4,447.1 377.8,446.5 381,446.5 385.4,445.9 388.5,443.3 393,442.1 396.1,443.3 396.7,438.3 398,434.5 399.9,433.9 401.8,437.0 404.9,435.8 408.1,436.4 408.7,432.6 411.2,429.5 414.4,426.9 415.7,424.4 420.1,421.9 423.2,424.4 427,427.6 430.8,428.2 434.6,426.3 437.7,423.8 440,422.1 437.9,424.9 437.1,427.6 436,430.4 433.3,432.6 429.5,436.4 425.8,440.2 422,443.3 419.4,445.6 416.9,447.7 413.1,451.5 408.1,454.7 403.1,457.2 398.6,460.4 395.5,464.1 396.7,467.3 394.9,471.1 390.4,473.6 386.7,474.9 382.9,475.5 379.1,476.1 376.6,478.6 374,482.4 370.9,484.9 367.1,484.3 363.3,484.9 360.2,487.5 357.5,491.4 355.6,496.5 355.6,501.5 356.9,506.6 357.5,511.6 356.9,516.7 358.1,521.7 359.4,525.5 359.4,528.6 355,528.6 351.8,531.2 349.9,533.1 346.8,531.8 343.6,532.4 341.1,534.3 339.2,536.2 335.4,535.6 330.4,536.2 328.5,538.1 327.2,541.9 325.4,544.4 322.2,542.1 324.1,540.0 326.6,536.8 328.5,534.3 325.4,531.8 324.1,528.0 320.3,525.5 319,521.7 315.9,520.4 312.1,522.3 308.3,523.6 305.8,521.1 302.7,523.6 299.5,523.0 298.2,517.3 298,513.7 297.6,510.4 295.1,507.2 296.3,503.4 295.7,499.6 299.5,500.3 302,499.0 300.1,495.2 301.4,491.4 300.1,487.7 300.8,483.2 303.9,482.4 308.6,482.0Z"/>
<path fill="#f09a78" d="M249.7,485.8 251.6,482.0 253.5,478.8 252.9,475.0 250.4,471.9 249.9,471.9 252.5,470.0 255.7,468.7 260.1,466.2 263.2,463.7 267,464.3 271.4,462.4 275.2,461.8 275.2,459.3 273.3,455.5 274.6,453.6 279,454.9 284,455.5 287.8,455.5 287.8,450.4 291.6,448.5 294.1,446.0 297.3,444.1 297.9,440.4 302.3,438.5 304.2,435.3 306.1,434.7 309.3,437.2 310.5,440.4 311.2,444.1 308.6,448.5 308,451.1 311.8,453.0 308.6,455.5 306.7,458.6 308.6,462.4 308,466.8 307.4,470.6 304.9,473.1 308,475.0 309.3,478.2 308.6,482.0 303.9,482.4 300.8,483.2 300.1,487.7 301.4,491.4 300.1,495.2 302,499.0 299.5,500.3 295.7,499.6 296.3,503.4 295.1,507.2 297.6,510.4 298,513.7 298.2,517.3 299.5,523.0 302.7,523.6 305.8,521.1 308.3,523.6 312.1,522.3 315.9,520.4 319,521.7 320.3,525.5 324.1,528.0 325.4,531.8 328.5,534.3 326.6,536.8 324.1,540.0 322.2,542.1 319,540.6 315.3,540.6 312.1,543.1 310.2,545.7 311.5,549.4 309,552.0 308.6,557.7 304.2,560.2 299.8,560.2 296,562.7 291.6,562.7 287.2,563.3 286.6,562.1 283.4,560.2 281.5,557.7 277.1,555.1 272.7,552.0 268.9,548.2 265.8,545.0 261.7,542.8 260.4,538.7 259.2,534.3 257.9,529.3 257.3,524.2 255.4,519.2 253.5,514.1 251.6,509.1 249.1,505.3 246.6,501.5 248.5,501.5 251,499.0 250.4,494.0 250.4,488.9 249.7,485.8Z"/>
<path fill="#f5d98a" d="M261.7,542.8 265.8,545.0 268.9,548.2 272.7,552.0 277.1,555.1 281.5,557.7 283.4,560.2 286.6,562.1 287.2,563.3 285.9,565.2 290.4,568.4 291.6,570.9 293.5,572.2 293.5,575.9 296,579.1 297.3,582.9 296.7,587.3 299.8,588.5 303,587.3 304.9,589.8 304.2,594.2 303,598.0 304.9,601.8 306.1,604.3 304.2,608.1 303,611.9 304.2,615.7 303.6,619.4 303.4,621.7 302.2,626.1 299,623.6 295.2,619.2 294.1,616.9 292.2,613.1 289.7,608.7 287.8,604.3 286.6,599.3 285.9,595.5 284.7,591.1 283.4,587.5 282.8,585.4 281,581.6 280.9,579.1 279.7,575.4 278.4,572.8 277.2,569.9 275.9,567.1 274.9,563.6 272.7,561.4 269.5,556.4 266.4,551.3 263.2,546.3 261.7,542.8Z"/>
<path fill="#f5d98a" d="M287.2,563.3 291.6,562.7 296,562.7 299.8,560.2 304.2,560.2 308.6,557.7 309,552.0 311.5,549.4 310.2,545.7 312.1,543.1 315.3,540.6 319,540.6 322.2,542.1 325.4,544.4 327.2,541.9 328.5,538.1 330.4,536.2 335.4,535.6 339.2,536.2 341.1,534.3 343.6,532.4 346.8,531.8 349.9,533.1 351.8,531.2 355,528.6 359.4,528.6 359.9,533.9 359,536.5 358.6,540.2 357.4,545.2 355.5,549.6 353,553.4 350.4,557.2 349.8,561.6 350.4,566.7 351.1,571.7 351.1,576.7 351.7,581.8 351.7,587.5 349.8,588.7 345.4,588.7 342.2,590.6 340.4,594.4 339.1,598.2 335.6,600.3 334.9,603.4 338.1,605.9 335.6,606.6 330.5,608.5 325.5,610.4 321.7,613.5 320.4,616.7 319.8,621.1 317.9,624.2 314.1,626.1 310.4,628.0 306.6,628.3 302.2,626.1 303.4,621.7 303.6,619.4 304.2,615.7 303,611.9 304.2,608.1 306.1,604.3 304.9,601.8 303,598.0 304.2,594.2 304.9,589.8 303,587.3 299.8,588.5 296.7,587.3 297.3,582.9 296,579.1 293.5,575.9 293.5,572.2 291.6,570.9 290.4,568.4 285.9,565.2 287.2,563.3Z"/>
<path fill="#f8f4f0" d="M299.9,228.0 303.1,227.2 305.6,230.9 306.2,234.1 303.1,236.6 300.5,234.1 297.4,233.5 298.6,230.3Z"/>
<path fill="#f09a78" d="M299.5,514.1 302.7,512.9 306.4,513.5 308.3,515.4 306.4,517.9 302.7,518.5 300.1,517.3Z"/>
<path fill="none" stroke="#8c8460" stroke-opacity="0.3" stroke-width="1.2" stroke-dasharray="4 2.5" d="M252.1,100.1 247.7,100.8 243.9,103.9 240.8,108.3 243.9,112.7 248.3,117.2 245.2,121.6 243.9,125.4 247.1,128.5 248.3,132.9 245.2,135.4 249.6,138.0 255.3,141.1"/>
<path fill="#c9947a" fill-opacity="0.6" stroke="none" d="M623.4,254.9 627.8,253.0 631.0,252.3 630.4,254.0 626.6,255.5 624.0,256.5Z"/>
<path fill="#b9b07a" fill-opacity="0.17" stroke="none" d="M174.1,320.2 183.0,321.4 193.1,321.7 194.9,325.2 190.5,327.1 189.3,331.5 185.5,327.1 175.4,327.1Z"/>
<path fill="#b9b07a" fill-opacity="0.17" stroke="none" d="M186.1,340.4 191.8,334.0 195.6,336.6 194.9,341.0 189.3,342.9Z"/>
<path fill="#b9b07a" fill-opacity="0.17" stroke="none" d="M177.3,342.2 183.6,342.2 180.4,345.4 176.7,344.8Z"/>
<path fill="#b9b07a" fill-opacity="0.17" stroke="none" d="M150.2,322.7 156.5,324.0 154.0,329.6 148.9,329.6Z"/>
<path fill="#b9b07a" fill-opacity="0.17" stroke="none" d="M165.9,320.8 172.2,321.4 171.6,323.3 166.6,323.3Z"/>
<path fill="#f5d98a" d="M590.6,527.1 591.8,528.6 591.4,531.3 592.2,533.9 591.4,536.6 589.9,538.1 588.0,538.5 587.2,536.2 587.6,533.2 588.4,530.1 589.5,527.9Z"/>
<path fill="#f5d98a" d="M588.4,540.0 590.3,541.1 590.6,544.5 589.9,547.5 588.0,549.8 586.1,550.2 585.3,547.5 585.7,544.1 586.5,541.5Z"/>
<path fill="#f5d98a" d="M586.1,552.1 586.9,555.1 586.5,558.1 586.9,561.2 585.7,564.2 585.3,567.2 584.2,569.5 583.1,568.0 582.7,564.2 582.7,560.4 582.7,558.1 584.2,555.1 585.3,552.8Z"/>
<path fill="#f5d98a" d="M581.2,577.3 583.5,579.0 583.5,582.3 581.8,584.0 579.6,582.9 579.2,580.1Z"/>
<ellipse cx="585.0" cy="539.6" rx="0.9" ry="1.3" fill="#1a1a1a" stroke="none"/>
<ellipse cx="591.2" cy="556.0" rx="0.9" ry="2.2" fill="#1a1a1a" stroke="none"/>
<ellipse cx="590.7" cy="525.3" rx="0.7" ry="0.4" fill="#1a1a1a" stroke="none"/>
<ellipse cx="576.8" cy="564.7" rx="0.6" ry="0.6" fill="#1a1a1a" stroke="none"/>
<ellipse cx="584.2" cy="568.0" rx="0.9" ry="1.2" fill="#1a1a1a" stroke="none"/>
<ellipse cx="586.5" cy="608.7" rx="1.0" ry="1.0" fill="#1a1a1a" stroke="none"/>
<ellipse cx="593.2" cy="625.3" rx="1.0" ry="1.2" fill="#1a1a1a" stroke="none"/>
<ellipse cx="597.6" cy="631.0" rx="1.3" ry="1.2" fill="#1a1a1a" stroke="none"/>
<ellipse cx="600.2" cy="628.6" rx="1.0" ry="1.6" fill="#1a1a1a" stroke="none"/>
<ellipse cx="211.0" cy="564.5" rx="0.8" ry="0.8" fill="#1a1a1a" stroke="none"/>
<ellipse cx="370.2" cy="485.2" rx="1.3" ry="1.1" fill="#1a1a1a" stroke="none"/>
<ellipse cx="348.6" cy="557.8" rx="1.4" ry="1.6" fill="#1a1a1a" stroke="none"/>
<ellipse cx="349.9" cy="576.2" rx="1.0" ry="0.9" fill="#1a1a1a" stroke="none"/>
<ellipse cx="341.5" cy="607.2" rx="1.5" ry="0.9" fill="#1a1a1a" stroke="none"/>
<ellipse cx="295.8" cy="186.3" rx="0.9" ry="1.4" fill="#1a1a1a" stroke="none"/>
</g>
<g style='font-family:"Liberation Sans",sans-serif;font-style:italic;fill:#86b5eb;stroke:#d3e5f9;stroke-width:2;paint-order:stroke;stroke-linejoin:round'>
<text x="49.5" y="505" font-size="15.5" letter-spacing="2.9" text-anchor="middle">Arabian</text>
<text x="50" y="523" font-size="15.5" letter-spacing="2.6" text-anchor="middle">Sea</text>
<text x="484" y="513" font-size="13.5" letter-spacing="2.6" text-anchor="middle">Bay of</text>
<text x="484" y="528" font-size="13.5" letter-spacing="2.6" text-anchor="middle">Bengal</text>
<text font-size="12.5" letter-spacing="2.2" font-style="normal" transform="translate(233.5 579.5) rotate(73)">Laccadive Sea</text>
</g>
</svg>
</div>
<div id="frame"></div>
<div id="play">
<svg width="103" height="103" viewBox="0 0 103 103">
<circle cx="51.4" cy="51.4" r="49" fill="none" stroke="#e6e7e8" stroke-width="3.4"/>
<circle cx="51.4" cy="51.4" r="43.9" fill="#f8f8f8" stroke="#82868b" stroke-width="7.1"/>
<defs><linearGradient id="pg" x1="0" y1="0" x2="1" y2="1"><stop offset="0" stop-color="#f5872f"/><stop offset="1" stop-color="#ea772c"/></linearGradient></defs>
<path d="M34.2,25.6 L34.2,77.4 Q34.2,78.4 35.1,77.9 L79.6,52 Q80.5,51.5 79.6,51 L35.1,25.1 Q34.2,24.6 34.2,25.6 Z" fill="url(#pg)"/>
</svg>
</div>
<div id="attr"><span>© 2020 Mapbox © OpenStreetMap</span></div>
<div id="footer"><svg width="793" height="28" viewBox="0 0 793 28"><path d="M21.90,14.50H27.10M24.50,11.90V17.10" stroke="#555" stroke-width="1.15" fill="none"/><path d="M17.77,10.09H21.77M19.77,8.09V12.09" stroke="#5e5e5e" stroke-width="1.05" fill="none"/><path d="M26.60,10.09H30.60M28.60,8.09V12.09" stroke="#5e5e5e" stroke-width="1.05" fill="none"/><path d="M17.77,18.41H21.77M19.77,16.41V20.41" stroke="#5e5e5e" stroke-width="1.05" fill="none"/><path d="M26.60,18.41H30.60M28.60,16.41V20.41" stroke="#5e5e5e" stroke-width="1.05" fill="none"/><path d="M23.10,7.25H25.90M24.50,5.85V8.65" stroke="#6a6a6a" stroke-width="0.95" fill="none"/><path d="M23.10,21.12H25.90M24.50,19.72V22.52" stroke="#6a6a6a" stroke-width="0.95" fill="none"/><path d="M16.17,14.50H18.97M17.57,13.10V15.90" stroke="#6a6a6a" stroke-width="0.95" fill="none"/><path d="M30.04,14.50H32.84M31.44,13.10V15.90" stroke="#6a6a6a" stroke-width="0.95" fill="none"/><text y="20.2" font-family="Liberation Sans, sans-serif" font-size="14.4" fill="#555" stroke="#555" stroke-width="0.2" text-anchor="middle"><tspan x="44" y="22" font-size="21.5" stroke-width="0">+</tspan><tspan x="57.4" y="20.2">a</tspan><tspan x="70.9">b</tspan><tspan x="81.6" y="19.2" font-size="15.5">|</tspan><tspan x="92.2" y="20.2">e</tspan><tspan x="104.9">a</tspan><tspan x="117.3">u</tspan></text></svg></div>
</body>
</html>
